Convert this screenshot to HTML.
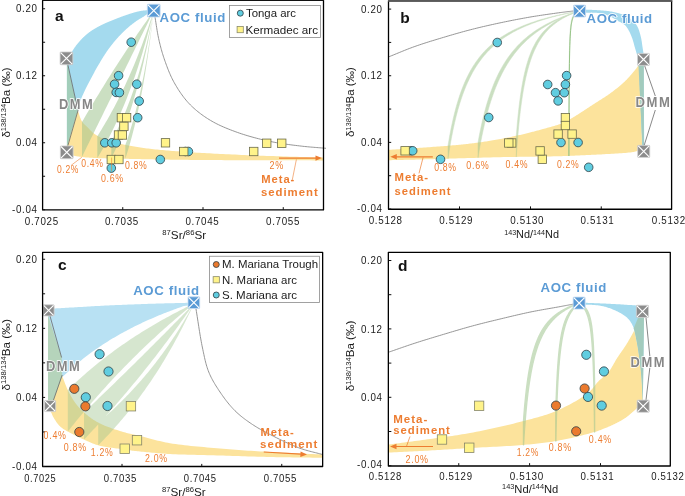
<!DOCTYPE html>
<html><head><meta charset="utf-8"><style>
html,body{margin:0;padding:0;background:#fff;}
svg{display:block;will-change:transform;}
text{font-family:"Liberation Sans", sans-serif;}
</style></head><body>
<svg width="685" height="496" viewBox="0 0 685 496">
<rect x="0" y="0" width="685" height="496" fill="#ffffff"/>
<path d="M70.3,54.45 L70.51,54.11 L70.71,53.77 L70.92,53.43 L71.12,53.09 L71.33,52.75 L71.53,52.41 L71.73,52.07 L71.94,51.73 L72.14,51.39 L72.35,51.05 L72.56,50.71 L72.76,50.38 L72.97,50.05 L73.18,49.72 L73.39,49.39 L73.6,49.07 L73.8,48.77 L74,48.47 L74.2,48.17 L74.41,47.87 L74.61,47.57 L74.81,47.28 L75.02,46.99 L75.22,46.7 L75.43,46.41 L75.64,46.13 L75.84,45.84 L76.05,45.56 L76.26,45.28 L76.47,45 L76.69,44.72 L76.9,44.45 L77.11,44.19 L77.31,43.93 L77.52,43.67 L77.73,43.42 L77.94,43.17 L78.16,42.91 L78.37,42.66 L78.58,42.42 L78.8,42.17 L79.01,41.93 L79.23,41.68 L79.44,41.44 L79.66,41.2 L79.87,40.96 L80.09,40.73 L80.3,40.49 L80.5,40.27 L80.71,40.04 L80.91,39.82 L81.12,39.6 L81.32,39.39 L81.53,39.17 L81.73,38.95 L81.94,38.74 L82.14,38.53 L82.35,38.32 L82.56,38.11 L82.76,37.9 L82.97,37.69 L83.18,37.49 L83.39,37.28 L83.6,37.08 L83.8,36.89 L84.01,36.69 L84.21,36.5 L84.41,36.32 L84.62,36.13 L84.82,35.94 L85.03,35.76 L85.24,35.57 L85.44,35.39 L85.65,35.21 L85.86,35.03 L86.07,34.85 L86.27,34.67 L86.48,34.5 L86.69,34.32 L86.9,34.15 L87.1,33.98 L87.31,33.82 L87.51,33.65 L87.72,33.49 L87.92,33.32 L88.13,33.16 L88.33,33 L88.54,32.84 L88.75,32.69 L88.95,32.53 L89.16,32.37 L89.37,32.22 L89.58,32.07 L89.78,31.91 L89.99,31.76 L90.2,31.61 L90.4,31.46 L90.61,31.32 L90.81,31.17 L91.02,31.03 L91.22,30.89 L91.43,30.75 L91.63,30.61 L91.84,30.47 L92.04,30.33 L92.25,30.19 L92.46,30.06 L92.66,29.92 L92.87,29.79 L93.08,29.65 L93.29,29.52 L93.5,29.39 L93.71,29.26 L93.92,29.13 L94.13,29.01 L94.34,28.88 L94.55,28.75 L94.77,28.63 L94.98,28.51 L95.19,28.38 L95.41,28.26 L95.62,28.14 L95.83,28.02 L96.05,27.9 L96.26,27.78 L96.48,27.67 L96.69,27.55 L96.9,27.43 L97.11,27.32 L97.31,27.2 L97.52,27.09 L97.73,26.98 L97.93,26.86 L98.14,26.75 L98.34,26.64 L98.55,26.53 L98.76,26.42 L98.96,26.31 L99.17,26.2 L99.37,26.1 L99.58,25.99 L99.79,25.88 L99.99,25.78 L100.2,25.67 L100.41,25.57 L100.61,25.46 L100.82,25.36 L101.02,25.26 L101.23,25.15 L101.43,25.05 L101.64,24.95 L101.85,24.85 L102.05,24.75 L102.26,24.65 L102.47,24.55 L102.67,24.45 L102.88,24.35 L103.09,24.26 L103.29,24.16 L103.5,24.06 L103.71,23.96 L103.91,23.87 L104.12,23.77 L104.32,23.68 L104.53,23.58 L104.73,23.49 L104.94,23.4 L105.14,23.3 L105.35,23.21 L105.56,23.12 L105.76,23.03 L105.97,22.93 L106.18,22.84 L106.38,22.75 L106.59,22.66 L106.8,22.57 L107.01,22.48 L107.22,22.39 L107.43,22.3 L107.65,22.21 L107.86,22.12 L108.07,22.03 L108.28,21.94 L108.5,21.86 L108.71,21.77 L108.93,21.68 L109.14,21.59 L109.35,21.51 L109.56,21.42 L109.78,21.33 L109.99,21.25 L110.2,21.16 L110.41,21.07 L110.61,20.99 L110.82,20.9 L111.03,20.82 L111.23,20.73 L111.44,20.65 L111.65,20.56 L111.85,20.48 L112.06,20.4 L112.26,20.31 L112.47,20.23 L112.68,20.14 L112.88,20.06 L113.09,19.98 L113.29,19.89 L113.5,19.81 L113.71,19.73 L113.91,19.65 L114.12,19.56 L114.32,19.48 L114.53,19.4 L114.74,19.32 L114.94,19.24 L115.15,19.16 L115.36,19.07 L115.56,18.99 L115.77,18.91 L115.97,18.83 L116.18,18.75 L116.39,18.67 L116.59,18.59 L116.8,18.51 L117.01,18.43 L117.21,18.35 L117.42,18.27 L117.62,18.19 L117.83,18.11 L118.04,18.03 L118.24,17.95 L118.45,17.87 L118.66,17.79 L118.86,17.71 L119.07,17.63 L119.27,17.55 L119.48,17.47 L119.69,17.4 L119.89,17.32 L120.1,17.24 L120.31,17.16 L120.51,17.08 L120.72,17.01 L120.92,16.93 L121.13,16.85 L121.33,16.78 L121.54,16.7 L121.75,16.62 L121.95,16.55 L122.16,16.47 L122.36,16.4 L122.57,16.32 L122.78,16.24 L122.98,16.17 L123.19,16.09 L123.4,16.02 L123.61,15.94 L123.82,15.87 L124.03,15.79 L124.25,15.72 L124.46,15.65 L124.67,15.57 L124.89,15.5 L125.1,15.42 L125.31,15.35 L125.53,15.28 L125.74,15.2 L125.95,15.13 L126.16,15.06 L126.38,14.98 L126.59,14.91 L126.8,14.84 L127.01,14.77 L127.21,14.7 L127.42,14.63 L127.63,14.56 L127.83,14.49 L128.04,14.42 L128.25,14.35 L128.45,14.28 L128.66,14.21 L128.86,14.14 L129.07,14.07 L129.28,14 L129.48,13.93 L129.69,13.86 L129.89,13.8 L130.1,13.73 L130.31,13.66 L130.51,13.6 L130.72,13.53 L130.92,13.47 L131.13,13.4 L131.34,13.34 L131.54,13.27 L131.75,13.21 L131.95,13.14 L132.16,13.08 L132.37,13.02 L132.57,12.95 L132.78,12.89 L132.99,12.83 L133.19,12.77 L133.4,12.71 L133.61,12.65 L133.81,12.59 L134.02,12.53 L134.22,12.47 L134.43,12.41 L134.64,12.36 L134.84,12.3 L135.05,12.24 L135.25,12.19 L135.46,12.13 L135.67,12.08 L135.87,12.02 L136.08,11.97 L136.29,11.91 L136.49,11.86 L136.7,11.81 L136.91,11.76 L137.11,11.71 L137.32,11.66 L137.52,11.61 L137.73,11.56 L137.93,11.51 L138.14,11.47 L138.34,11.42 L138.55,11.38 L138.76,11.33 L138.96,11.29 L139.17,11.24 L139.38,11.2 L139.58,11.16 L139.79,11.12 L140,11.08 L140.21,11.04 L140.42,11 L140.63,10.97 L140.85,10.93 L141.06,10.89 L141.27,10.86 L141.48,10.83 L141.7,10.79 L141.91,10.76 L142.12,10.73 L142.34,10.7 L142.55,10.67 L142.76,10.65 L142.98,10.62 L143.19,10.59 L143.4,10.57 L143.61,10.55 L143.81,10.53 L144.02,10.5 L144.23,10.48 L144.43,10.46 L144.64,10.45 L144.85,10.43 L145.05,10.41 L145.26,10.4 L145.46,10.38 L145.67,10.37 L145.88,10.36 L146.08,10.35 L146.29,10.34 L146.49,10.34 L146.7,10.33 L146.91,10.33 L147.11,10.33 L147.32,10.33 L147.52,10.33 L147.73,10.33 L147.94,10.34 L148.14,10.35 L148.35,10.35 L148.56,10.36 L148.76,10.37 L148.97,10.38 L149.17,10.39 L149.38,10.4 L149.59,10.41 L149.79,10.41 L150,10.42 L150,12 L149.65,12.26 L149.31,12.51 L148.97,12.77 L148.63,13.02 L148.29,13.28 L147.95,13.53 L147.62,13.79 L147.28,14.04 L146.93,14.3 L146.59,14.55 L146.24,14.81 L145.89,15.06 L145.53,15.32 L145.16,15.58 L144.78,15.84 L144.4,16.1 L143.94,16.4 L143.47,16.71 L142.99,17 L142.49,17.3 L141.99,17.6 L141.49,17.9 L140.98,18.2 L140.46,18.5 L139.94,18.8 L139.42,19.11 L138.89,19.43 L138.37,19.75 L137.85,20.07 L137.33,20.41 L136.81,20.75 L136.3,21.1 L135.74,21.49 L135.18,21.89 L134.62,22.3 L134.06,22.71 L133.5,23.13 L132.94,23.56 L132.37,23.99 L131.81,24.43 L131.25,24.88 L130.68,25.33 L130.12,25.79 L129.56,26.26 L128.99,26.73 L128.43,27.21 L127.86,27.7 L127.3,28.2 L126.67,28.77 L126.03,29.35 L125.39,29.95 L124.74,30.55 L124.09,31.17 L123.45,31.8 L122.8,32.44 L122.15,33.08 L121.51,33.73 L120.87,34.38 L120.24,35.03 L119.61,35.69 L119,36.35 L118.39,37 L117.79,37.65 L117.2,38.3 L116.65,38.92 L116.1,39.54 L115.55,40.18 L115.01,40.81 L114.48,41.45 L113.94,42.1 L113.42,42.74 L112.9,43.38 L112.39,44.02 L111.89,44.66 L111.39,45.29 L110.91,45.91 L110.44,46.53 L109.98,47.13 L109.53,47.72 L109.1,48.3 L108.77,48.75 L108.45,49.18 L108.15,49.59 L107.85,50 L107.57,50.4 L107.29,50.8 L107.02,51.19 L106.75,51.59 L106.48,51.98 L106.21,52.38 L105.94,52.79 L105.67,53.2 L105.39,53.63 L105.1,54.07 L104.81,54.52 L104.5,55 L104.08,55.65 L103.65,56.33 L103.21,57.04 L102.76,57.76 L102.3,58.5 L101.84,59.26 L101.37,60.03 L100.9,60.81 L100.43,61.6 L99.95,62.39 L99.48,63.18 L99.01,63.98 L98.55,64.77 L98.09,65.55 L97.64,66.33 L97.2,67.1 L96.77,67.85 L96.34,68.6 L95.92,69.36 L95.5,70.11 L95.08,70.87 L94.66,71.62 L94.25,72.38 L93.83,73.13 L93.42,73.89 L93.02,74.65 L92.61,75.41 L92.2,76.16 L91.8,76.92 L91.4,77.68 L91,78.44 L90.6,79.2 L90.2,79.96 L89.81,80.72 L89.41,81.48 L89.01,82.25 L88.61,83.01 L88.22,83.78 L87.82,84.55 L87.43,85.32 L87.05,86.08 L86.66,86.84 L86.29,87.6 L85.91,88.36 L85.55,89.1 L85.19,89.84 L84.84,90.58 L84.5,91.3 L84.2,91.93 L83.91,92.56 L83.62,93.17 L83.33,93.79 L83.05,94.39 L82.77,95 L82.5,95.6 L82.23,96.2 L81.96,96.8 L81.71,97.39 L81.45,97.99 L81.21,98.59 L80.97,99.18 L80.74,99.79 L80.52,100.39 L80.3,101 L80.1,101.59 L79.91,102.18 L79.74,102.77 L79.57,103.36 L79.41,103.96 L79.25,104.55 L79.1,105.15 L78.95,105.74 L78.81,106.34 L78.67,106.93 L78.53,107.53 L78.39,108.12 L78.25,108.72 L78.1,109.31 L77.95,109.91 L77.8,110.5 L66.9,147 L66.9,60 Z" fill="#a4daee"/>
<path d="M77.8,110.5 L78.06,111.2 L78.3,111.9 L78.55,112.62 L78.78,113.35 L79.01,114.08 L79.24,114.81 L79.48,115.53 L79.71,116.26 L79.96,116.97 L80.21,117.68 L80.47,118.37 L80.74,119.04 L81.03,119.69 L81.33,120.32 L81.66,120.93 L82,121.5 L82.31,121.96 L82.64,122.41 L82.98,122.84 L83.34,123.25 L83.71,123.65 L84.08,124.04 L84.47,124.41 L84.86,124.78 L85.25,125.14 L85.64,125.5 L86.03,125.85 L86.42,126.2 L86.8,126.54 L87.18,126.89 L87.55,127.24 L87.9,127.6 L88.21,127.92 L88.51,128.24 L88.8,128.55 L89.09,128.86 L89.38,129.18 L89.66,129.49 L89.95,129.79 L90.23,130.1 L90.52,130.4 L90.8,130.7 L91.09,130.99 L91.38,131.28 L91.68,131.57 L91.98,131.85 L92.28,132.13 L92.6,132.4 L92.92,132.67 L93.23,132.92 L93.55,133.18 L93.86,133.43 L94.18,133.67 L94.5,133.91 L94.83,134.15 L95.15,134.38 L95.49,134.61 L95.83,134.84 L96.18,135.07 L96.54,135.29 L96.91,135.52 L97.3,135.75 L97.69,135.97 L98.1,136.2 L98.66,136.5 L99.25,136.81 L99.85,137.11 L100.47,137.41 L101.11,137.71 L101.77,138.01 L102.44,138.3 L103.13,138.6 L103.83,138.89 L104.54,139.17 L105.26,139.45 L105.99,139.73 L106.73,140.01 L107.48,140.28 L108.24,140.54 L109,140.8 L109.93,141.1 L110.88,141.4 L111.84,141.69 L112.82,141.98 L113.82,142.25 L114.83,142.52 L115.86,142.79 L116.9,143.05 L117.96,143.31 L119.02,143.56 L120.11,143.81 L121.2,144.05 L122.31,144.29 L123.43,144.53 L124.56,144.77 L125.7,145 L127.08,145.28 L128.49,145.55 L129.93,145.81 L131.38,146.07 L132.86,146.33 L134.35,146.58 L135.86,146.82 L137.39,147.06 L138.93,147.3 L140.48,147.53 L142.05,147.75 L143.63,147.97 L145.21,148.19 L146.8,148.4 L148.4,148.6 L150,148.8 L151.78,149.01 L153.56,149.22 L155.36,149.41 L157.17,149.6 L158.99,149.78 L160.82,149.95 L162.66,150.12 L164.52,150.28 L166.4,150.44 L168.29,150.6 L170.19,150.75 L172.12,150.9 L174.06,151.05 L176.02,151.2 L178,151.35 L180,151.5 L182.33,151.67 L184.69,151.84 L187.08,152 L189.49,152.17 L191.92,152.32 L194.38,152.48 L196.86,152.63 L199.36,152.78 L201.88,152.93 L204.42,153.07 L206.98,153.21 L209.55,153.35 L212.14,153.49 L214.75,153.63 L217.37,153.76 L220,153.9 L222.97,154.05 L225.97,154.2 L229.01,154.34 L232.07,154.48 L235.16,154.62 L238.27,154.76 L241.4,154.89 L244.55,155.02 L247.71,155.15 L250.89,155.28 L254.07,155.4 L257.26,155.53 L260.45,155.65 L263.64,155.77 L266.82,155.88 L270,156 L273.28,156.12 L276.58,156.23 L279.88,156.34 L283.19,156.44 L286.52,156.54 L289.85,156.64 L293.18,156.74 L296.52,156.84 L299.86,156.93 L303.21,157.03 L306.55,157.12 L309.9,157.21 L313.24,157.31 L316.58,157.4 L319.92,157.5 L323.25,157.6 L323.25,160.4 L318.65,160.39 L314,160.38 L309.32,160.36 L304.61,160.35 L299.89,160.34 L295.17,160.33 L290.45,160.31 L285.75,160.3 L281.08,160.29 L276.45,160.28 L271.86,160.27 L267.33,160.25 L262.87,160.24 L258.49,160.23 L254.2,160.21 L250,160.2 L246.61,160.19 L243.29,160.18 L240.04,160.17 L236.83,160.16 L233.67,160.16 L230.55,160.15 L227.47,160.14 L224.41,160.13 L221.36,160.12 L218.33,160.11 L215.31,160.1 L212.28,160.09 L209.24,160.07 L206.18,160.05 L203.11,160.03 L200,160 L196.84,159.97 L193.63,159.94 L190.37,159.9 L187.08,159.86 L183.78,159.82 L180.47,159.78 L177.16,159.73 L173.88,159.68 L170.64,159.63 L167.44,159.59 L164.31,159.54 L161.25,159.49 L158.27,159.44 L155.4,159.39 L152.63,159.35 L150,159.3 L148.23,159.27 L146.5,159.24 L144.82,159.21 L143.17,159.17 L141.56,159.14 L139.98,159.11 L138.43,159.08 L136.92,159.04 L135.43,159.01 L133.97,158.98 L132.54,158.95 L131.13,158.92 L129.75,158.89 L128.38,158.86 L127.03,158.83 L125.7,158.8 L124.69,158.78 L123.71,158.76 L122.74,158.74 L121.8,158.72 L120.88,158.7 L119.97,158.69 L119.08,158.67 L118.19,158.65 L117.31,158.64 L116.44,158.62 L115.58,158.6 L114.71,158.58 L113.84,158.56 L112.97,158.54 L112.09,158.52 L111.2,158.5 L110.33,158.48 L109.47,158.46 L108.62,158.44 L107.77,158.42 L106.92,158.4 L106.07,158.38 L105.22,158.37 L104.38,158.35 L103.53,158.32 L102.68,158.3 L101.83,158.27 L100.97,158.25 L100.11,158.21 L99.25,158.18 L98.38,158.14 L97.5,158.1 L96.55,158.05 L95.58,158 L94.59,157.95 L93.6,157.9 L92.59,157.85 L91.58,157.79 L90.56,157.73 L89.55,157.67 L88.55,157.6 L87.55,157.53 L86.57,157.46 L85.61,157.38 L84.67,157.29 L83.75,157.2 L82.86,157.1 L82,157 L81.35,156.92 L80.72,156.84 L80.09,156.76 L79.47,156.68 L78.86,156.6 L78.26,156.52 L77.67,156.43 L77.09,156.34 L76.52,156.25 L75.96,156.14 L75.41,156.03 L74.87,155.91 L74.34,155.78 L73.82,155.63 L73.3,155.47 L72.8,155.3 L72.38,155.14 L71.98,154.97 L71.58,154.79 L71.2,154.59 L70.83,154.39 L70.46,154.19 L70.1,153.97 L69.74,153.76 L69.39,153.54 L69.03,153.31 L68.68,153.09 L68.33,152.86 L67.98,152.64 L67.63,152.42 L67.27,152.21 L66.9,152 L66.9,147 Z" fill="#fce39c"/>
<path d="M66.9,62 L78,110.5 L66.9,148 Z M153.7,10.8 L151.91,13.31 L150.11,15.83 L148.32,18.36 L146.53,20.91 L144.74,23.47 L142.94,26.04 L141.15,28.63 L139.36,31.22 L137.57,33.84 L135.77,36.46 L133.98,39.1 L132.19,41.75 L130.4,44.42 L128.6,47.1 L126.81,49.79 L125.02,52.5 L123.23,55.22 L121.44,57.96 L119.64,60.71 L117.85,63.47 L116.06,66.25 L114.26,69.05 L112.47,71.86 L110.68,74.68 L108.89,77.52 L107.09,80.37 L105.3,83.24 L103.51,86.13 L101.72,89.03 L99.92,91.95 L98.13,94.88 L96.34,97.83 L94.55,100.79 L92.75,103.77 L90.96,106.77 L89.17,109.78 L87.38,112.81 L85.59,115.86 L83.79,118.92 L82,122 L82,156.8 L83.79,153.15 L85.59,149.5 L87.38,145.85 L89.17,142.2 L90.96,138.55 L92.75,134.9 L94.55,131.25 L96.34,127.6 L98.13,123.95 L99.92,120.3 L101.72,116.65 L103.51,113 L105.3,109.35 L107.09,105.7 L108.89,102.05 L110.68,98.4 L112.47,94.75 L114.26,91.1 L116.06,87.45 L117.85,83.8 L119.64,80.15 L121.44,76.5 L123.23,72.85 L125.02,69.2 L126.81,65.55 L128.6,61.9 L130.4,58.25 L132.19,54.6 L133.98,50.95 L135.77,47.3 L137.57,43.65 L139.36,40 L141.15,36.35 L142.94,32.7 L144.74,29.05 L146.53,25.4 L148.32,21.75 L150.11,18.1 L151.91,14.45 L153.7,10.8 Z M153.7,10.8 L152.29,15.21 L150.88,19.52 L149.47,23.75 L148.06,27.89 L146.65,31.95 L145.24,35.93 L143.83,39.83 L142.42,43.65 L141.01,47.41 L139.6,51.09 L138.19,54.7 L136.78,58.24 L135.37,61.72 L133.96,65.14 L132.55,68.49 L131.14,71.78 L129.73,75.02 L128.32,78.19 L126.91,81.31 L125.5,84.38 L124.09,87.4 L122.68,90.36 L121.27,93.27 L119.86,96.14 L118.45,98.95 L117.04,101.72 L115.63,104.45 L114.22,107.13 L112.81,109.76 L111.4,112.36 L109.99,114.91 L108.58,117.43 L107.17,119.9 L105.76,122.34 L104.35,124.74 L102.94,127.1 L101.53,129.43 L100.12,131.72 L98.71,133.98 L97.3,136.2 L97.3,158.1 L98.71,155.78 L100.12,153.41 L101.53,151 L102.94,148.54 L104.35,146.03 L105.76,143.47 L107.17,140.86 L108.58,138.19 L109.99,135.48 L111.4,132.7 L112.81,129.87 L114.22,126.98 L115.63,124.03 L117.04,121.01 L118.45,117.93 L119.86,114.78 L121.27,111.56 L122.68,108.26 L124.09,104.89 L125.5,101.45 L126.91,97.92 L128.32,94.31 L129.73,90.61 L131.14,86.83 L132.55,82.95 L133.96,78.97 L135.37,74.9 L136.78,70.72 L138.19,66.43 L139.6,62.03 L141.01,57.52 L142.42,52.89 L143.83,48.12 L145.24,43.23 L146.65,38.2 L148.06,33.03 L149.47,27.71 L150.88,22.24 L152.29,16.6 L153.7,10.8 Z M153.7,10.8 L152.64,16.25 L151.58,21.52 L150.52,26.61 L149.46,31.53 L148.4,36.3 L147.34,40.92 L146.28,45.39 L145.22,49.72 L144.16,53.92 L143.1,58 L142.04,61.96 L140.98,65.8 L139.92,69.54 L138.86,73.17 L137.8,76.7 L136.74,80.13 L135.68,83.47 L134.62,86.72 L133.56,89.88 L132.5,92.97 L131.44,95.97 L130.38,98.9 L129.32,101.75 L128.26,104.54 L127.2,107.26 L126.14,109.91 L125.08,112.5 L124.02,115.02 L122.96,117.49 L121.9,119.91 L120.84,122.26 L119.78,124.57 L118.72,126.82 L117.66,129.03 L116.6,131.18 L115.54,133.29 L114.48,135.36 L113.42,137.38 L112.36,139.36 L111.3,141.3 L111.3,158.5 L112.36,156.31 L113.42,154.06 L114.48,151.78 L115.54,149.44 L116.6,147.05 L117.66,144.61 L118.72,142.11 L119.78,139.56 L120.84,136.96 L121.9,134.29 L122.96,131.56 L124.02,128.76 L125.08,125.9 L126.14,122.97 L127.2,119.97 L128.26,116.89 L129.32,113.74 L130.38,110.51 L131.44,107.2 L132.5,103.8 L133.56,100.31 L134.62,96.72 L135.68,93.05 L136.74,89.27 L137.8,85.38 L138.86,81.39 L139.92,77.28 L140.98,73.05 L142.04,68.7 L143.1,64.22 L144.16,59.61 L145.22,54.85 L146.28,49.95 L147.34,44.88 L148.4,39.66 L149.46,34.27 L150.52,28.69 L151.58,22.93 L152.64,16.97 L153.7,10.8 Z M153.7,10.8 L152.99,16.41 L152.28,21.82 L151.57,27.06 L150.86,32.12 L150.15,37.02 L149.44,41.77 L148.73,46.37 L148.02,50.82 L147.31,55.15 L146.6,59.34 L145.89,63.41 L145.18,67.36 L144.47,71.2 L143.76,74.94 L143.05,78.56 L142.34,82.09 L141.63,85.53 L140.92,88.87 L140.21,92.13 L139.5,95.3 L138.79,98.39 L138.08,101.4 L137.37,104.33 L136.66,107.2 L135.95,109.99 L135.24,112.72 L134.53,115.38 L133.82,117.98 L133.11,120.52 L132.4,123 L131.69,125.42 L130.98,127.79 L130.27,130.11 L129.56,132.38 L128.85,134.6 L128.14,136.77 L127.43,138.89 L126.72,140.97 L126.01,143.01 L125.3,145 L125.3,158.8 L126.01,156.6 L126.72,154.36 L127.43,152.06 L128.14,149.72 L128.85,147.33 L129.56,144.88 L130.27,142.38 L130.98,139.83 L131.69,137.21 L132.4,134.54 L133.11,131.8 L133.82,129 L134.53,126.13 L135.24,123.2 L135.95,120.19 L136.66,117.11 L137.37,113.95 L138.08,110.71 L138.79,107.39 L139.5,103.99 L140.21,100.49 L140.92,96.9 L141.63,93.21 L142.34,89.42 L143.05,85.53 L143.76,81.53 L144.47,77.42 L145.18,73.18 L145.89,68.82 L146.6,64.33 L147.31,59.71 L148.02,54.94 L148.73,50.02 L149.44,44.95 L150.15,39.72 L150.86,34.31 L151.57,28.73 L152.28,22.95 L152.99,16.98 L153.7,10.8 Z" fill="#a0c590" fill-opacity="0.55"/>
<path d="M154.5,14 L154.78,15.64 L155.05,17.3 L155.31,18.96 L155.57,20.62 L155.83,22.29 L156.09,23.96 L156.35,25.63 L156.61,27.29 L156.87,28.95 L157.14,30.6 L157.42,32.24 L157.71,33.87 L158.01,35.48 L158.33,37.07 L158.66,38.65 L159,40.2 L159.32,41.6 L159.65,42.97 L159.99,44.34 L160.33,45.69 L160.67,47.03 L161.03,48.36 L161.39,49.68 L161.76,50.99 L162.14,52.29 L162.53,53.6 L162.93,54.89 L163.34,56.19 L163.76,57.49 L164.19,58.79 L164.64,60.09 L165.1,61.4 L165.58,62.74 L166.07,64.08 L166.56,65.42 L167.06,66.76 L167.56,68.1 L168.08,69.44 L168.61,70.77 L169.16,72.11 L169.72,73.43 L170.3,74.76 L170.89,76.08 L171.51,77.4 L172.15,78.71 L172.81,80.01 L173.49,81.31 L174.2,82.6 L174.98,83.97 L175.78,85.35 L176.6,86.73 L177.45,88.11 L178.31,89.49 L179.2,90.86 L180.11,92.23 L181.04,93.59 L182,94.93 L182.97,96.26 L183.97,97.58 L184.99,98.87 L186.04,100.14 L187.1,101.39 L188.19,102.61 L189.3,103.8 L190.45,104.98 L191.64,106.15 L192.85,107.29 L194.08,108.42 L195.34,109.52 L196.62,110.61 L197.92,111.68 L199.25,112.72 L200.59,113.75 L201.96,114.76 L203.34,115.75 L204.74,116.72 L206.16,117.67 L207.59,118.6 L209.04,119.51 L210.5,120.4 L212.06,121.31 L213.63,122.2 L215.24,123.06 L216.86,123.89 L218.51,124.7 L220.17,125.49 L221.86,126.26 L223.56,127.01 L225.28,127.74 L227.02,128.46 L228.77,129.16 L230.53,129.85 L232.31,130.53 L234.09,131.19 L235.89,131.85 L237.7,132.5 L239.67,133.19 L241.67,133.86 L243.7,134.52 L245.76,135.17 L247.84,135.79 L249.94,136.41 L252.05,137 L254.17,137.58 L256.29,138.15 L258.42,138.69 L260.54,139.22 L262.66,139.73 L264.77,140.23 L266.87,140.7 L268.94,141.16 L271,141.6 L272.92,141.99 L274.85,142.37 L276.77,142.72 L278.69,143.05 L280.61,143.37 L282.53,143.67 L284.44,143.96 L286.35,144.23 L288.24,144.49 L290.13,144.74 L292.01,144.99 L293.88,145.22 L295.73,145.45 L297.57,145.67 L299.39,145.89 L301.2,146.1 L302.81,146.29 L304.41,146.46 L306,146.62 L307.56,146.77 L309.12,146.92 L310.67,147.05 L312.21,147.18 L313.75,147.31 L315.28,147.43 L316.8,147.55 L318.33,147.67 L319.85,147.79 L321.38,147.91 L322.92,148.04 L324.45,148.17 L326,148.3" fill="none" stroke="#8a8a8a" stroke-width="0.9"/>
<path d="M67.5,63 L78,110.5 L67.5,147" fill="none" stroke="#6a6a6a" stroke-width="0.8"/>
<path d="M279,158.1 L318,158.1" stroke="#ed7d31" stroke-width="1.2"/>
<path d="M322,158.1 L315.5,155.4 L315.5,160.8 Z" fill="#ed7d31"/>
<circle cx="131.2" cy="42.2" r="4.3" fill="#60cde0" stroke="#2f3f45" stroke-width="0.8"/>
<circle cx="118.6" cy="75.7" r="4.3" fill="#60cde0" stroke="#2f3f45" stroke-width="0.8"/>
<circle cx="114.6" cy="84.2" r="4.3" fill="#60cde0" stroke="#2f3f45" stroke-width="0.8"/>
<circle cx="136.8" cy="84.2" r="4.3" fill="#60cde0" stroke="#2f3f45" stroke-width="0.8"/>
<circle cx="116.2" cy="92.4" r="4.3" fill="#60cde0" stroke="#2f3f45" stroke-width="0.8"/>
<circle cx="119.4" cy="92.6" r="4.3" fill="#60cde0" stroke="#2f3f45" stroke-width="0.8"/>
<circle cx="139.2" cy="101.1" r="4.3" fill="#60cde0" stroke="#2f3f45" stroke-width="0.8"/>
<circle cx="137.7" cy="117.7" r="4.3" fill="#60cde0" stroke="#2f3f45" stroke-width="0.8"/>
<circle cx="104.8" cy="142.8" r="4.3" fill="#60cde0" stroke="#2f3f45" stroke-width="0.8"/>
<circle cx="111.8" cy="142.8" r="4.3" fill="#60cde0" stroke="#2f3f45" stroke-width="0.8"/>
<circle cx="116.2" cy="142.8" r="4.3" fill="#60cde0" stroke="#2f3f45" stroke-width="0.8"/>
<circle cx="160.3" cy="159.5" r="4.3" fill="#60cde0" stroke="#2f3f45" stroke-width="0.8"/>
<circle cx="111.3" cy="168.1" r="4.3" fill="#60cde0" stroke="#2f3f45" stroke-width="0.8"/>
<circle cx="185.5" cy="151.5" r="4.3" fill="#60cde0" stroke="#2f3f45" stroke-width="0.8"/>
<circle cx="188.4" cy="151.5" r="4.3" fill="#60cde0" stroke="#2f3f45" stroke-width="0.8"/>
<rect x="117.2" y="113.5" width="8.4" height="8.4" fill="#fff38a" stroke="#6b6b4a" stroke-width="0.8"/>
<rect x="122.4" y="113.5" width="8.4" height="8.4" fill="#fff38a" stroke="#6b6b4a" stroke-width="0.8"/>
<rect x="119.7" y="122.2" width="8.4" height="8.4" fill="#fff38a" stroke="#6b6b4a" stroke-width="0.8"/>
<rect x="114.3" y="130.8" width="8.4" height="8.4" fill="#fff38a" stroke="#6b6b4a" stroke-width="0.8"/>
<rect x="118.2" y="130.8" width="8.4" height="8.4" fill="#fff38a" stroke="#6b6b4a" stroke-width="0.8"/>
<rect x="161.3" y="138.6" width="8.4" height="8.4" fill="#fff38a" stroke="#6b6b4a" stroke-width="0.8"/>
<rect x="107.1" y="155.3" width="8.4" height="8.4" fill="#fff38a" stroke="#6b6b4a" stroke-width="0.8"/>
<rect x="114.7" y="155.3" width="8.4" height="8.4" fill="#fff38a" stroke="#6b6b4a" stroke-width="0.8"/>
<rect x="179.55" y="147.3" width="8.4" height="8.4" fill="#fff38a" stroke="#6b6b4a" stroke-width="0.8"/>
<rect x="249.55" y="147.3" width="8.4" height="8.4" fill="#fff38a" stroke="#6b6b4a" stroke-width="0.8"/>
<rect x="262.55" y="139.05" width="8.4" height="8.4" fill="#fff38a" stroke="#6b6b4a" stroke-width="0.8"/>
<rect x="277.55" y="139.05" width="8.4" height="8.4" fill="#fff38a" stroke="#6b6b4a" stroke-width="0.8"/>
<path d="M71.2,165.3 L81.8,157.3 M111.6,157.6 L111.6,171.4 M296.4,159.4 L292,181.3" stroke="#ed7d31" stroke-width="0.7" stroke-opacity="0.85" fill="none"/>
<rect x="60.05" y="51.95" width="12.8" height="12.8" fill="#8c8c8c" stroke="#d4d4d4" stroke-width="0.8" rx="0.8"/>
<path d="M60.65,52.55 L72.25,64.15 M60.65,64.15 L72.25,52.55" stroke="#ffffff" stroke-width="1.15"/>
<rect x="60.35" y="145.9" width="12.8" height="12.8" fill="#8c8c8c" stroke="#d4d4d4" stroke-width="0.8" rx="0.8"/>
<path d="M60.95,146.5 L72.55,158.1 M60.95,158.1 L72.55,146.5" stroke="#ffffff" stroke-width="1.15"/>
<rect x="147.35" y="4.2" width="12.8" height="12.8" fill="#5b9bd5" stroke="#c8ddf2" stroke-width="0.8" rx="0.8"/>
<path d="M147.95,4.8 L159.55,16.4 M147.95,16.4 L159.55,4.8" stroke="#ffffff" stroke-width="1.15"/>
<rect x="42.6" y="0.4" width="280.9" height="209.5" fill="none" stroke="#000" stroke-width="1.3" stroke-linejoin="round"/>
<rect x="42" y="0" width="282" height="1" fill="#111"/>
<path d="M42.5,8.75 L45.1,8.75 M42.5,42.25 L45.1,42.25 M42.5,75.75 L45.1,75.75 M42.5,109.25 L45.1,109.25 M42.5,142.75 L45.1,142.75 M42.5,176.25 L45.1,176.25 M42.5,209.75 L45.1,209.75 " stroke="#111" stroke-width="1"/>
<path d="M122.75,209.75 L122.75,207.15 M203,209.75 L203,207.15 M283.25,209.75 L283.25,207.15 " stroke="#111" stroke-width="1"/>
<text x="37.7" y="12.3" font-size="10.3" text-anchor="end" fill="#1a1a1a" font-weight="normal" textLength="21.7" lengthAdjust="spacingAndGlyphs" letter-spacing="0.7">0.20</text>
<text x="37.7" y="79.3" font-size="10.3" text-anchor="end" fill="#1a1a1a" font-weight="normal" textLength="21.7" lengthAdjust="spacingAndGlyphs" letter-spacing="0.7">0.12</text>
<text x="37.7" y="146.3" font-size="10.3" text-anchor="end" fill="#1a1a1a" font-weight="normal" textLength="21.7" lengthAdjust="spacingAndGlyphs" letter-spacing="0.7">0.04</text>
<text x="37.7" y="212.5" font-size="10.3" text-anchor="end" fill="#1a1a1a" font-weight="normal" textLength="25.7" lengthAdjust="spacingAndGlyphs" letter-spacing="0.7">-0.04</text>
<text x="41.85" y="225" font-size="10.3" text-anchor="middle" fill="#1a1a1a" font-weight="normal" textLength="34" lengthAdjust="spacingAndGlyphs" letter-spacing="0.7">0.7025</text>
<text x="121.95" y="225" font-size="10.3" text-anchor="middle" fill="#1a1a1a" font-weight="normal" textLength="34" lengthAdjust="spacingAndGlyphs" letter-spacing="0.7">0.7035</text>
<text x="202.45" y="225" font-size="10.3" text-anchor="middle" fill="#1a1a1a" font-weight="normal" textLength="34" lengthAdjust="spacingAndGlyphs" letter-spacing="0.7">0.7045</text>
<text x="283.05" y="225" font-size="10.3" text-anchor="middle" fill="#1a1a1a" font-weight="normal" textLength="34" lengthAdjust="spacingAndGlyphs" letter-spacing="0.7">0.7055</text>
<text transform="translate(9.6,137.6) rotate(-90)" font-size="10.7" fill="#1a1a1a" textLength="70.2" lengthAdjust="spacingAndGlyphs">&#948;<tspan font-size="7" dy="-3.6">138/134</tspan><tspan dy="3.6">Ba (&#8240;)</tspan></text>
<text x="162.3" y="239" font-size="10.7" fill="#1a1a1a" textLength="43.9" lengthAdjust="spacingAndGlyphs"><tspan font-size="7" dy="-3.8">87</tspan><tspan dy="3.8">Sr/</tspan><tspan font-size="7" dy="-3.8">86</tspan><tspan dy="3.8">Sr</tspan></text>
<text x="55" y="21" font-size="15.5" text-anchor="start" fill="#111" font-weight="bold">a</text>
<text x="159.6" y="22.2" font-size="13.6" text-anchor="start" fill="#5b9bd5" font-weight="bold" textLength="66.3" lengthAdjust="spacingAndGlyphs" letter-spacing="0.6">AOC fluid</text>
<text x="58.9" y="108.8" font-size="13.8" text-anchor="start" fill="#878787" font-weight="bold" textLength="35.2" lengthAdjust="spacingAndGlyphs" letter-spacing="1.6" stroke="#fff" stroke-width="1.6" paint-order="stroke">DMM</text>
<text x="56.9" y="172.5" font-size="10" text-anchor="start" fill="#ed7d31" font-weight="normal" textLength="22.2" lengthAdjust="spacingAndGlyphs" letter-spacing="0.8">0.2%</text>
<text x="81.2" y="167.4" font-size="10" text-anchor="start" fill="#ed7d31" font-weight="normal" textLength="22.4" lengthAdjust="spacingAndGlyphs" letter-spacing="0.8">0.4%</text>
<text x="100.9" y="181.5" font-size="10" text-anchor="start" fill="#ed7d31" font-weight="normal" textLength="23" lengthAdjust="spacingAndGlyphs" letter-spacing="0.8">0.6%</text>
<text x="124.9" y="168.7" font-size="10" text-anchor="start" fill="#ed7d31" font-weight="normal" textLength="22.6" lengthAdjust="spacingAndGlyphs" letter-spacing="0.8">0.8%</text>
<text x="269.6" y="168.9" font-size="10" text-anchor="start" fill="#ed7d31" font-weight="normal" textLength="14.5" lengthAdjust="spacingAndGlyphs" letter-spacing="0.8">2%</text>
<text x="261.2" y="182.8" font-size="11.5" text-anchor="start" fill="#ed7d31" font-weight="bold" textLength="34.1" lengthAdjust="spacingAndGlyphs" letter-spacing="1">Meta-</text>
<text x="260.9" y="196.4" font-size="11.5" text-anchor="start" fill="#ed7d31" font-weight="bold" textLength="57.8" lengthAdjust="spacingAndGlyphs" letter-spacing="1">sediment</text>
<rect x="229.5" y="5.5" width="91" height="32" fill="#fff" stroke="#8a8a8a" stroke-width="0.8"/>
<circle cx="240.3" cy="13.2" r="3" fill="#60cde0" stroke="#2f3f45" stroke-width="0.8"/>
<rect x="237.1" y="26.5" width="6.2" height="6.2" fill="#fff38a" stroke="#8a8a6a" stroke-width="0.8"/>
<text x="246" y="17.2" font-size="10.7" text-anchor="start" fill="#1a1a1a" font-weight="normal" textLength="50" lengthAdjust="spacingAndGlyphs">Tonga arc</text>
<text x="245.5" y="33.5" font-size="10.7" text-anchor="start" fill="#1a1a1a" font-weight="normal" textLength="72.5" lengthAdjust="spacingAndGlyphs">Kermadec arc</text>
<path d="M585.5,9.6 L586.28,9.64 L587.07,9.67 L587.85,9.7 L588.64,9.74 L589.42,9.77 L590.21,9.8 L590.99,9.83 L591.78,9.87 L592.56,9.9 L593.34,9.94 L594.13,9.97 L594.91,10.01 L595.68,10.05 L596.46,10.1 L597.23,10.15 L598,10.2 L598.75,10.25 L599.49,10.31 L600.24,10.36 L600.99,10.41 L601.75,10.47 L602.49,10.52 L603.24,10.58 L603.99,10.65 L604.72,10.71 L605.46,10.78 L606.19,10.85 L606.91,10.93 L607.62,11.02 L608.32,11.1 L609.02,11.2 L609.7,11.3 L610.29,11.39 L610.88,11.49 L611.46,11.59 L612.04,11.7 L612.61,11.8 L613.18,11.91 L613.74,12.03 L614.3,12.15 L614.85,12.27 L615.39,12.39 L615.93,12.52 L616.46,12.65 L616.98,12.78 L617.5,12.92 L618,13.06 L618.5,13.2 L618.91,13.32 L619.31,13.44 L619.71,13.56 L620.1,13.69 L620.48,13.81 L620.85,13.94 L621.23,14.07 L621.59,14.2 L621.96,14.34 L622.32,14.47 L622.68,14.62 L623.05,14.76 L623.41,14.91 L623.77,15.07 L624.13,15.23 L624.5,15.4 L624.88,15.58 L625.26,15.75 L625.65,15.93 L626.03,16.12 L626.41,16.3 L626.79,16.49 L627.17,16.68 L627.54,16.88 L627.92,17.09 L628.29,17.3 L628.67,17.53 L629.04,17.76 L629.41,18 L629.77,18.26 L630.14,18.52 L630.5,18.8 L630.93,19.14 L631.36,19.5 L631.8,19.87 L632.24,20.26 L632.67,20.65 L633.11,21.07 L633.54,21.49 L633.97,21.92 L634.39,22.37 L634.8,22.83 L635.2,23.3 L635.59,23.78 L635.97,24.27 L636.33,24.77 L636.67,25.28 L637,25.8 L637.34,26.39 L637.66,27 L637.96,27.63 L638.24,28.28 L638.51,28.95 L638.77,29.63 L639.01,30.32 L639.24,31.02 L639.46,31.73 L639.67,32.45 L639.88,33.16 L640.07,33.88 L640.26,34.59 L640.44,35.3 L640.62,36.01 L640.8,36.7 L640.97,37.38 L641.12,38.07 L641.26,38.77 L641.4,39.48 L641.52,40.19 L641.64,40.9 L641.75,41.61 L641.85,42.32 L641.95,43.02 L642.05,43.71 L642.14,44.4 L642.23,45.07 L642.32,45.73 L642.41,46.37 L642.51,47 L642.6,47.6 L642.67,48.05 L642.74,48.48 L642.81,48.9 L642.87,49.32 L642.94,49.72 L643,50.12 L643.06,50.52 L643.12,50.91 L643.18,51.29 L643.24,51.67 L643.3,52.06 L643.36,52.44 L643.42,52.82 L643.48,53.21 L643.54,53.6 L643.6,54 L644.2,147 L641.8,147 L637.4,56 L637.34,55.81 L637.29,55.63 L637.23,55.45 L637.18,55.27 L637.13,55.09 L637.07,54.91 L637.02,54.73 L636.97,54.55 L636.91,54.37 L636.86,54.19 L636.8,54 L636.74,53.81 L636.68,53.62 L636.62,53.42 L636.56,53.21 L636.5,53 L636.41,52.71 L636.33,52.41 L636.24,52.11 L636.15,51.8 L636.05,51.49 L635.96,51.17 L635.86,50.85 L635.77,50.52 L635.67,50.18 L635.56,49.83 L635.46,49.48 L635.35,49.12 L635.24,48.75 L635.13,48.38 L635.02,47.99 L634.9,47.6 L634.73,47.02 L634.56,46.42 L634.39,45.78 L634.22,45.13 L634.04,44.46 L633.86,43.77 L633.67,43.07 L633.47,42.36 L633.27,41.64 L633.07,40.92 L632.85,40.2 L632.62,39.48 L632.38,38.77 L632.13,38.07 L631.87,37.38 L631.6,36.7 L631.3,36 L631,35.28 L630.69,34.55 L630.37,33.81 L630.04,33.08 L629.7,32.34 L629.35,31.61 L628.99,30.88 L628.61,30.17 L628.22,29.47 L627.83,28.79 L627.41,28.14 L626.98,27.51 L626.54,26.9 L626.08,26.33 L625.6,25.8 L625.16,25.36 L624.7,24.95 L624.22,24.56 L623.72,24.19 L623.22,23.85 L622.7,23.52 L622.17,23.21 L621.63,22.91 L621.09,22.62 L620.54,22.33 L620,22.05 L619.45,21.77 L618.9,21.49 L618.36,21.2 L617.83,20.91 L617.3,20.6 L616.79,20.29 L616.27,19.98 L615.76,19.66 L615.25,19.35 L614.74,19.03 L614.23,18.72 L613.72,18.41 L613.2,18.1 L612.69,17.8 L612.17,17.5 L611.65,17.21 L611.13,16.93 L610.61,16.65 L610.08,16.39 L609.54,16.14 L609,15.9 L608.46,15.67 L607.93,15.46 L607.39,15.24 L606.86,15.04 L606.32,14.85 L605.79,14.66 L605.24,14.48 L604.7,14.3 L604.14,14.14 L603.58,13.98 L603.01,13.83 L602.44,13.69 L601.85,13.56 L601.24,13.43 L600.63,13.31 L600,13.2 L599.19,13.08 L598.36,12.98 L597.51,12.9 L596.63,12.84 L595.74,12.79 L594.83,12.75 L593.91,12.73 L592.98,12.71 L592.04,12.7 L591.1,12.69 L590.15,12.68 L589.21,12.68 L588.27,12.67 L587.34,12.65 L586.41,12.63 L585.5,12.6 Z" fill="#a4daee"/>
<path d="M389,149.8 L390.94,149.68 L392.88,149.55 L394.82,149.43 L396.76,149.31 L398.7,149.18 L400.65,149.06 L402.59,148.94 L404.53,148.81 L406.47,148.69 L408.41,148.57 L410.35,148.44 L412.29,148.32 L414.22,148.19 L416.15,148.06 L418.08,147.93 L420,147.8 L421.9,147.67 L423.82,147.54 L425.74,147.41 L427.68,147.27 L429.62,147.14 L431.55,147 L433.49,146.87 L435.41,146.73 L437.32,146.59 L439.22,146.45 L441.09,146.32 L442.94,146.17 L444.76,146.03 L446.54,145.89 L448.29,145.75 L450,145.6 L451.36,145.48 L452.7,145.36 L454,145.25 L455.29,145.13 L456.55,145.01 L457.8,144.9 L459.03,144.78 L460.26,144.66 L461.47,144.54 L462.68,144.42 L463.89,144.29 L465.1,144.16 L466.31,144.03 L467.53,143.89 L468.76,143.75 L470,143.6 L471.25,143.45 L472.49,143.3 L473.73,143.14 L474.96,142.99 L476.2,142.83 L477.43,142.66 L478.66,142.5 L479.9,142.33 L481.14,142.15 L482.38,141.98 L483.63,141.79 L484.88,141.61 L486.15,141.41 L487.42,141.22 L488.7,141.01 L490,140.8 L491.44,140.56 L492.91,140.31 L494.41,140.05 L495.92,139.78 L497.45,139.51 L498.98,139.23 L500.53,138.94 L502.07,138.65 L503.6,138.36 L505.13,138.06 L506.64,137.76 L508.13,137.47 L509.6,137.17 L511.03,136.88 L512.44,136.59 L513.8,136.3 L514.9,136.06 L515.99,135.83 L517.06,135.59 L518.12,135.36 L519.16,135.12 L520.19,134.88 L521.21,134.65 L522.21,134.41 L523.21,134.17 L524.2,133.93 L525.18,133.7 L526.15,133.46 L527.12,133.22 L528.08,132.98 L529.04,132.74 L530,132.5 L530.85,132.28 L531.68,132.07 L532.5,131.86 L533.31,131.65 L534.11,131.44 L534.9,131.23 L535.69,131.02 L536.48,130.81 L537.26,130.59 L538.05,130.38 L538.85,130.16 L539.65,129.93 L540.47,129.71 L541.29,129.48 L542.14,129.24 L543,129 L544.03,128.71 L545.1,128.42 L546.21,128.13 L547.33,127.83 L548.47,127.52 L549.63,127.22 L550.79,126.9 L551.95,126.59 L553.11,126.27 L554.25,125.94 L555.37,125.61 L556.47,125.28 L557.54,124.94 L558.57,124.6 L559.56,124.25 L560.5,123.9 L561.18,123.63 L561.83,123.37 L562.46,123.1 L563.07,122.83 L563.66,122.56 L564.24,122.29 L564.81,122.01 L565.37,121.73 L565.93,121.45 L566.48,121.16 L567.03,120.87 L567.59,120.57 L568.15,120.27 L568.72,119.95 L569.3,119.63 L569.9,119.3 L570.58,118.92 L571.27,118.52 L571.96,118.12 L572.65,117.71 L573.34,117.29 L574.03,116.86 L574.73,116.43 L575.43,115.99 L576.14,115.54 L576.84,115.09 L577.56,114.63 L578.28,114.17 L579,113.71 L579.73,113.24 L580.46,112.77 L581.2,112.3 L582.04,111.76 L582.89,111.22 L583.75,110.66 L584.62,110.1 L585.5,109.53 L586.38,108.95 L587.27,108.37 L588.16,107.79 L589.05,107.2 L589.95,106.61 L590.84,106.02 L591.74,105.43 L592.64,104.84 L593.53,104.26 L594.42,103.68 L595.3,103.1 L596.18,102.53 L597.07,101.96 L597.95,101.4 L598.83,100.84 L599.72,100.28 L600.61,99.72 L601.49,99.16 L602.38,98.6 L603.26,98.04 L604.14,97.47 L605.02,96.9 L605.9,96.32 L606.78,95.73 L607.66,95.13 L608.53,94.52 L609.4,93.9 L610.31,93.24 L611.22,92.58 L612.14,91.9 L613.06,91.21 L613.98,90.52 L614.91,89.82 L615.83,89.11 L616.74,88.4 L617.65,87.68 L618.54,86.96 L619.43,86.24 L620.3,85.51 L621.15,84.78 L621.99,84.05 L622.81,83.33 L623.6,82.6 L624.29,81.95 L624.98,81.28 L625.67,80.6 L626.34,79.91 L627.01,79.22 L627.66,78.53 L628.31,77.83 L628.94,77.14 L629.56,76.45 L630.16,75.77 L630.75,75.1 L631.32,74.45 L631.87,73.81 L632.4,73.18 L632.91,72.58 L633.4,72 L633.73,71.61 L634.06,71.21 L634.38,70.83 L634.7,70.45 L635,70.07 L635.3,69.7 L635.59,69.33 L635.88,68.98 L636.15,68.63 L636.41,68.28 L636.66,67.95 L636.89,67.62 L637.12,67.3 L637.33,66.99 L637.52,66.69 L637.7,66.4 L637.8,66.23 L637.89,66.06 L637.98,65.9 L638.06,65.75 L638.13,65.59 L638.2,65.44 L638.26,65.3 L638.32,65.15 L638.38,65.01 L638.44,64.87 L638.5,64.72 L638.55,64.58 L638.61,64.44 L638.67,64.29 L638.73,64.15 L638.8,64 L642.2,147 L640.5,150 L640.04,150.13 L639.6,150.25 L639.17,150.38 L638.74,150.51 L638.33,150.64 L637.91,150.78 L637.49,150.91 L637.07,151.04 L636.63,151.17 L636.18,151.29 L635.72,151.42 L635.23,151.54 L634.72,151.66 L634.18,151.78 L633.61,151.89 L633,152 L631.71,152.2 L630.29,152.39 L628.73,152.56 L627.06,152.73 L625.29,152.88 L623.45,153.03 L621.54,153.17 L619.59,153.3 L617.61,153.42 L615.61,153.54 L613.62,153.66 L611.65,153.77 L609.72,153.88 L607.84,153.99 L606.03,154.09 L604.3,154.2 L602.84,154.29 L601.4,154.38 L599.98,154.46 L598.58,154.53 L597.18,154.61 L595.81,154.68 L594.44,154.75 L593.07,154.81 L591.72,154.87 L590.37,154.94 L589.01,155 L587.66,155.06 L586.31,155.12 L584.95,155.18 L583.58,155.24 L582.2,155.3 L580.83,155.36 L579.5,155.42 L578.2,155.48 L576.91,155.54 L575.63,155.6 L574.35,155.66 L573.07,155.72 L571.78,155.78 L570.46,155.83 L569.12,155.89 L567.74,155.94 L566.31,156 L564.83,156.05 L563.29,156.1 L561.68,156.15 L560,156.2 L557.04,156.28 L553.86,156.35 L550.48,156.42 L546.93,156.48 L543.23,156.54 L539.4,156.59 L535.48,156.65 L531.49,156.7 L527.45,156.76 L523.38,156.81 L519.33,156.87 L515.3,156.92 L511.33,156.99 L507.44,157.05 L503.65,157.12 L500,157.2 L496.73,157.28 L493.44,157.35 L490.16,157.44 L486.88,157.52 L483.61,157.61 L480.36,157.7 L477.13,157.79 L473.92,157.89 L470.75,157.98 L467.62,158.07 L464.53,158.17 L461.5,158.26 L458.52,158.35 L455.61,158.43 L452.77,158.52 L450,158.6 L447.92,158.66 L445.89,158.72 L443.91,158.78 L441.98,158.84 L440.08,158.9 L438.21,158.96 L436.37,159.02 L434.55,159.07 L432.75,159.13 L430.95,159.18 L429.16,159.24 L427.36,159.29 L425.55,159.35 L423.72,159.4 L421.87,159.45 L420,159.5 L418.08,159.55 L416.15,159.6 L414.22,159.64 L412.29,159.69 L410.35,159.73 L408.41,159.78 L406.47,159.82 L404.53,159.86 L402.59,159.91 L400.65,159.95 L398.7,159.99 L396.76,160.03 L394.82,160.07 L392.88,160.11 L390.94,160.16 L389,160.2 Z" fill="#fce39c"/>
<path d="M638.4,64 L643.8,64 L643.8,147 L642.6,147 L640.2,100 Z" fill="#a2cbbd"/>
<g opacity="0.55"><path d="M579.6,11 L577.96,11.28 L576.31,11.56 L574.67,11.86 L573.02,12.15 L571.38,12.46 L569.73,12.77 L568.09,13.09 L566.44,13.41 L564.8,13.74 L563.15,14.09 L561.5,14.43 L559.86,14.79 L558.22,15.16 L556.57,15.53 L554.93,15.91 L553.28,16.31 L551.63,16.71 L549.99,17.13 L548.35,17.55 L546.7,17.99 L545.06,18.43 L543.41,18.89 L541.76,19.36 L540.12,19.85 L538.48,20.35 L536.83,20.86 L535.19,21.39 L533.54,21.94 L531.89,22.5 L530.25,23.07 L528.61,23.67 L526.96,24.28 L525.32,24.92 L523.67,25.57 L522.02,26.25 L520.38,26.94 L518.74,27.67 L517.09,28.41 L515.45,29.19 L513.8,29.99 L512.15,30.82 L510.51,31.68 L508.87,32.57 L507.22,33.5 L505.58,34.47 L503.93,35.47 L502.29,36.52 L500.64,37.61 L499,38.74 L497.35,39.93 L495.71,41.17 L494.06,42.46 L492.42,43.82 L490.77,45.24 L489.12,46.73 L487.48,48.3 L485.84,49.95 L484.19,51.68 L482.55,53.51 L480.9,55.44 L479.25,57.48 L477.61,59.65 L475.97,61.95 L474.32,64.39 L472.68,66.99 L471.03,69.76 L469.38,72.73 L467.74,75.92 L466.1,79.34 L464.45,83.03 L462.81,87.02 L461.16,91.34 L459.51,96.04 L457.87,101.18 L456.23,106.82 L454.58,113.03 L452.94,119.9 L451.29,127.55 L449.64,136.11 L448,145.77 L448,158.66 L449.64,148.08 L451.29,138.69 L452.94,130.31 L454.58,122.78 L456.23,115.98 L457.87,109.81 L459.51,104.18 L461.16,99.02 L462.81,94.29 L464.45,89.92 L466.1,85.87 L467.74,82.13 L469.38,78.64 L471.03,75.38 L472.68,72.34 L474.32,69.49 L475.97,66.82 L477.61,64.3 L479.25,61.93 L480.9,59.69 L482.55,57.58 L484.19,55.57 L485.84,53.67 L487.48,51.87 L489.12,50.15 L490.77,48.52 L492.42,46.96 L494.06,45.47 L495.71,44.05 L497.35,42.7 L499,41.4 L500.64,40.15 L502.29,38.96 L503.93,37.81 L505.58,36.71 L507.22,35.66 L508.87,34.64 L510.51,33.66 L512.15,32.71 L513.8,31.8 L515.45,30.93 L517.09,30.08 L518.74,29.26 L520.38,28.47 L522.02,27.7 L523.67,26.96 L525.32,26.25 L526.96,25.55 L528.61,24.88 L530.25,24.23 L531.89,23.6 L533.54,22.98 L535.19,22.39 L536.83,21.81 L538.48,21.24 L540.12,20.7 L541.76,20.16 L543.41,19.65 L545.06,19.14 L546.7,18.65 L548.35,18.18 L549.99,17.71 L551.63,17.26 L553.28,16.82 L554.93,16.38 L556.57,15.96 L558.22,15.55 L559.86,15.15 L561.5,14.76 L563.15,14.38 L564.8,14.01 L566.44,13.64 L568.09,13.29 L569.73,12.94 L571.38,12.6 L573.02,12.26 L574.67,11.94 L576.31,11.62 L577.96,11.31 L579.6,11 Z M579.6,11 L578.33,11.38 L577.06,11.77 L575.79,12.17 L574.52,12.57 L573.25,12.99 L571.98,13.41 L570.71,13.84 L569.44,14.28 L568.17,14.73 L566.9,15.19 L565.63,15.65 L564.36,16.13 L563.09,16.62 L561.82,17.12 L560.55,17.63 L559.28,18.15 L558.01,18.69 L556.74,19.24 L555.47,19.8 L554.2,20.37 L552.93,20.96 L551.66,21.56 L550.39,22.18 L549.12,22.81 L547.85,23.45 L546.58,24.12 L545.31,24.8 L544.04,25.5 L542.77,26.22 L541.5,26.96 L540.23,27.72 L538.96,28.49 L537.69,29.3 L536.42,30.12 L535.15,30.97 L533.88,31.84 L532.61,32.74 L531.34,33.67 L530.07,34.62 L528.8,35.61 L527.53,36.62 L526.26,37.67 L524.99,38.75 L523.72,39.87 L522.45,41.03 L521.18,42.23 L519.91,43.47 L518.64,44.75 L517.37,46.08 L516.1,47.46 L514.83,48.9 L513.56,50.38 L512.29,51.93 L511.02,53.54 L509.75,55.21 L508.48,56.96 L507.21,58.77 L505.94,60.67 L504.67,62.65 L503.4,64.72 L502.13,66.89 L500.86,69.17 L499.59,71.55 L498.32,74.05 L497.05,76.68 L495.78,79.45 L494.51,82.37 L493.24,85.46 L491.97,88.72 L490.7,92.17 L489.43,95.83 L488.16,99.72 L486.89,103.87 L485.62,108.29 L484.35,113.02 L483.08,118.08 L481.81,123.53 L480.54,129.39 L479.27,135.72 L478,142.59 L478,157.77 L479.27,150.11 L480.54,143.05 L481.81,136.51 L483.08,130.44 L484.35,124.79 L485.62,119.52 L486.89,114.58 L488.16,109.96 L489.43,105.62 L490.7,101.54 L491.97,97.69 L493.24,94.05 L494.51,90.61 L495.78,87.35 L497.05,84.26 L498.32,81.33 L499.59,78.54 L500.86,75.88 L502.13,73.34 L503.4,70.92 L504.67,68.61 L505.94,66.4 L507.21,64.29 L508.48,62.26 L509.75,60.31 L511.02,58.45 L512.29,56.65 L513.56,54.93 L514.83,53.27 L516.1,51.67 L517.37,50.13 L518.64,48.65 L519.91,47.22 L521.18,45.83 L522.45,44.5 L523.72,43.21 L524.99,41.96 L526.26,40.75 L527.53,39.58 L528.8,38.44 L530.07,37.35 L531.34,36.28 L532.61,35.25 L533.88,34.25 L535.15,33.27 L536.42,32.33 L537.69,31.41 L538.96,30.51 L540.23,29.64 L541.5,28.8 L542.77,27.98 L544.04,27.17 L545.31,26.39 L546.58,25.63 L547.85,24.89 L549.12,24.17 L550.39,23.46 L551.66,22.78 L552.93,22.11 L554.2,21.45 L555.47,20.81 L556.74,20.19 L558.01,19.58 L559.28,18.98 L560.55,18.4 L561.82,17.83 L563.09,17.27 L564.36,16.72 L565.63,16.19 L566.9,15.67 L568.17,15.16 L569.44,14.66 L570.71,14.17 L571.98,13.69 L573.25,13.22 L574.52,12.76 L575.79,12.3 L577.06,11.86 L578.33,11.43 L579.6,11 Z M579.6,11 L578.81,11.23 L578.02,11.47 L577.23,11.72 L576.44,11.97 L575.64,12.23 L574.85,12.49 L574.06,12.76 L573.27,13.03 L572.48,13.31 L571.69,13.6 L570.9,13.89 L570.11,14.2 L569.31,14.51 L568.52,14.82 L567.73,15.15 L566.94,15.48 L566.15,15.82 L565.36,16.17 L564.57,16.53 L563.77,16.9 L562.98,17.28 L562.19,17.67 L561.4,18.08 L560.61,18.49 L559.82,18.91 L559.03,19.35 L558.24,19.8 L557.45,20.27 L556.65,20.74 L555.86,21.24 L555.07,21.75 L554.28,22.27 L553.49,22.82 L552.7,23.38 L551.91,23.96 L551.12,24.56 L550.32,25.18 L549.53,25.82 L548.74,26.49 L547.95,27.18 L547.16,27.9 L546.37,28.64 L545.58,29.42 L544.78,30.22 L543.99,31.06 L543.2,31.93 L542.41,32.84 L541.62,33.79 L540.83,34.78 L540.04,35.82 L539.25,36.9 L538.45,38.04 L537.66,39.23 L536.87,40.48 L536.08,41.8 L535.29,43.19 L534.5,44.65 L533.71,46.19 L532.92,47.82 L532.12,49.54 L531.33,51.37 L530.54,53.31 L529.75,55.38 L528.96,57.59 L528.17,59.95 L527.38,62.48 L526.59,65.19 L525.79,68.12 L525,71.27 L524.21,74.69 L523.42,78.41 L522.63,82.47 L521.84,86.91 L521.05,91.79 L520.26,97.19 L519.46,103.19 L518.67,109.9 L517.88,117.44 L517.09,125.99 L516.3,135.76 L516.3,156.91 L517.09,145.49 L517.88,135.49 L518.67,126.67 L519.46,118.82 L520.26,111.81 L521.05,105.49 L521.84,99.78 L522.63,94.58 L523.42,89.84 L524.21,85.49 L525,81.49 L525.79,77.8 L526.59,74.38 L527.38,71.2 L528.17,68.25 L528.96,65.49 L529.75,62.91 L530.54,60.49 L531.33,58.21 L532.12,56.07 L532.92,54.06 L533.71,52.15 L534.5,50.35 L535.29,48.64 L536.08,47.02 L536.87,45.48 L537.66,44.02 L538.45,42.62 L539.25,41.3 L540.04,40.03 L540.83,38.81 L541.62,37.65 L542.41,36.54 L543.2,35.48 L543.99,34.46 L544.78,33.48 L545.58,32.54 L546.37,31.63 L547.16,30.76 L547.95,29.92 L548.74,29.11 L549.53,28.33 L550.32,27.58 L551.12,26.85 L551.91,26.15 L552.7,25.48 L553.49,24.82 L554.28,24.18 L555.07,23.57 L555.86,22.97 L556.65,22.4 L557.45,21.84 L558.24,21.29 L559.03,20.77 L559.82,20.26 L560.61,19.76 L561.4,19.28 L562.19,18.81 L562.98,18.35 L563.77,17.9 L564.57,17.47 L565.36,17.05 L566.15,16.64 L566.94,16.24 L567.73,15.85 L568.52,15.47 L569.31,15.1 L570.11,14.74 L570.9,14.39 L571.69,14.04 L572.48,13.7 L573.27,13.38 L574.06,13.06 L574.85,12.74 L575.64,12.44 L576.44,12.14 L577.23,11.84 L578.02,11.56 L578.81,11.27 L579.6,11 Z M579.6,11 L579.47,11.04 L579.33,11.08 L579.2,11.13 L579.07,11.17 L578.93,11.22 L578.8,11.26 L578.66,11.31 L578.53,11.36 L578.4,11.41 L578.26,11.46 L578.13,11.52 L578,11.57 L577.86,11.63 L577.73,11.69 L577.59,11.75 L577.46,11.81 L577.33,11.87 L577.19,11.94 L577.06,12.01 L576.92,12.08 L576.79,12.15 L576.66,12.22 L576.52,12.3 L576.39,12.38 L576.26,12.46 L576.12,12.55 L575.99,12.64 L575.86,12.73 L575.72,12.83 L575.59,12.92 L575.45,13.03 L575.32,13.13 L575.19,13.25 L575.05,13.36 L574.92,13.48 L574.78,13.61 L574.65,13.74 L574.52,13.88 L574.38,14.02 L574.25,14.17 L574.12,14.33 L573.98,14.49 L573.85,14.67 L573.72,14.85 L573.58,15.04 L573.45,15.25 L573.31,15.46 L573.18,15.69 L573.05,15.93 L572.91,16.18 L572.78,16.46 L572.64,16.74 L572.51,17.05 L572.38,17.38 L572.24,17.74 L572.11,18.12 L571.98,18.53 L571.84,18.98 L571.71,19.46 L571.58,19.99 L571.44,20.56 L571.31,21.19 L571.17,21.89 L571.04,22.66 L570.91,23.52 L570.77,24.49 L570.64,25.58 L570.5,26.82 L570.37,28.24 L570.24,29.89 L570.1,31.83 L569.97,34.14 L569.84,36.94 L569.7,40.4 L569.57,44.78 L569.43,50.52 L569.3,58.35 L569.17,69.69 L569.03,87.55 L568.9,119.85 L568.9,155.9 L569.03,112.9 L569.17,89.12 L569.3,74.03 L569.43,63.61 L569.57,55.97 L569.7,50.13 L569.84,45.53 L569.97,41.8 L570.1,38.73 L570.24,36.15 L570.37,33.95 L570.5,32.05 L570.64,30.4 L570.77,28.95 L570.91,27.67 L571.04,26.52 L571.17,25.5 L571.31,24.57 L571.44,23.73 L571.58,22.96 L571.71,22.26 L571.84,21.62 L571.98,21.03 L572.11,20.48 L572.24,19.97 L572.38,19.5 L572.51,19.06 L572.64,18.65 L572.78,18.26 L572.91,17.9 L573.05,17.56 L573.18,17.24 L573.31,16.94 L573.45,16.65 L573.58,16.38 L573.72,16.12 L573.85,15.88 L573.98,15.65 L574.12,15.43 L574.25,15.22 L574.38,15.02 L574.52,14.83 L574.65,14.65 L574.78,14.47 L574.92,14.3 L575.05,14.14 L575.19,13.99 L575.32,13.84 L575.45,13.7 L575.59,13.56 L575.72,13.43 L575.86,13.3 L575.99,13.18 L576.12,13.06 L576.26,12.95 L576.39,12.84 L576.52,12.73 L576.66,12.63 L576.79,12.53 L576.92,12.43 L577.06,12.34 L577.19,12.25 L577.33,12.16 L577.46,12.08 L577.59,12 L577.73,11.92 L577.86,11.84 L578,11.76 L578.13,11.69 L578.26,11.62 L578.4,11.55 L578.53,11.48 L578.66,11.42 L578.8,11.35 L578.93,11.29 L579.07,11.23 L579.2,11.17 L579.33,11.11 L579.47,11.06 L579.6,11 Z" fill="#a0c590" stroke="#a0c590" stroke-width="0.5" stroke-linejoin="round"/></g>
<path d="M579.6,11 L579.47,11.06 L579.33,11.11 L579.2,11.17 L579.07,11.23 L578.93,11.29 L578.8,11.35 L578.66,11.42 L578.53,11.48 L578.4,11.55 L578.26,11.62 L578.13,11.69 L578,11.76 L577.86,11.84 L577.73,11.92 L577.59,12 L577.46,12.08 L577.33,12.16 L577.19,12.25 L577.06,12.34 L576.92,12.44 L576.79,12.53 L576.66,12.63 L576.52,12.73 L576.39,12.84 L576.26,12.95 L576.12,13.06 L575.99,13.18 L575.86,13.31 L575.72,13.43 L575.59,13.56 L575.45,13.7 L575.32,13.84 L575.19,13.99 L575.05,14.15 L574.92,14.31 L574.78,14.47 L574.65,14.65 L574.52,14.83 L574.38,15.02 L574.25,15.22 L574.12,15.43 L573.98,15.65 L573.85,15.89 L573.72,16.13 L573.58,16.39 L573.45,16.66 L573.31,16.94 L573.18,17.24 L573.05,17.56 L572.91,17.9 L572.78,18.27 L572.64,18.65 L572.51,19.06 L572.38,19.5 L572.24,19.98 L572.11,20.49 L571.98,21.03 L571.84,21.63 L571.71,22.27 L571.58,22.97 L571.44,23.74 L571.31,24.58 L571.17,25.51 L571.04,26.54 L570.91,27.68 L570.77,28.97 L570.64,30.42 L570.5,32.07 L570.37,33.96 L570.24,36.17 L570.1,38.75 L569.97,41.83 L569.84,45.55 L569.7,50.16 L569.57,56 L569.43,63.64 L569.3,74.08 L569.17,89.18 L569.03,112.97 L568.9,156" fill="none" stroke="#8fbf7f" stroke-width="0.9"/>
<path d="M388.6,56.9 L390.2,56.26 L391.79,55.62 L393.37,54.97 L394.95,54.32 L396.53,53.67 L398.11,53.02 L399.69,52.37 L401.27,51.72 L402.86,51.07 L404.45,50.43 L406.05,49.79 L407.66,49.16 L409.27,48.53 L410.9,47.91 L412.54,47.3 L414.2,46.7 L415.96,46.08 L417.74,45.46 L419.53,44.85 L421.34,44.25 L423.15,43.65 L424.98,43.06 L426.81,42.47 L428.65,41.89 L430.49,41.31 L432.34,40.74 L434.19,40.18 L436.04,39.62 L437.88,39.06 L439.73,38.5 L441.57,37.95 L443.4,37.4 L445.22,36.86 L447.04,36.31 L448.86,35.78 L450.69,35.24 L452.51,34.71 L454.33,34.18 L456.15,33.66 L457.98,33.14 L459.8,32.63 L461.63,32.12 L463.46,31.62 L465.28,31.12 L467.11,30.63 L468.94,30.15 L470.77,29.67 L472.6,29.2 L474.42,28.74 L476.24,28.29 L478.06,27.84 L479.88,27.4 L481.71,26.96 L483.53,26.53 L485.36,26.11 L487.18,25.69 L489.01,25.28 L490.83,24.87 L492.66,24.47 L494.49,24.07 L496.32,23.67 L498.14,23.28 L499.97,22.89 L501.8,22.5 L503.62,22.12 L505.44,21.74 L507.27,21.37 L509.09,20.99 L510.91,20.63 L512.74,20.26 L514.56,19.91 L516.39,19.55 L518.21,19.2 L520.04,18.86 L521.86,18.52 L523.69,18.18 L525.52,17.86 L527.34,17.53 L529.17,17.21 L531,16.9 L532.84,16.59 L534.71,16.29 L536.61,15.99 L538.52,15.69 L540.45,15.39 L542.37,15.1 L544.29,14.82 L546.21,14.54 L548.1,14.27 L549.96,14.01 L551.79,13.75 L553.59,13.5 L555.33,13.26 L557.02,13.03 L558.64,12.81 L560.2,12.6 L561.26,12.46 L562.29,12.33 L563.28,12.2 L564.25,12.08 L565.19,11.96 L566.11,11.85 L567.02,11.74 L567.91,11.63 L568.79,11.53 L569.67,11.43 L570.54,11.33 L571.42,11.23 L572.3,11.12 L573.18,11.02 L574.08,10.91 L575,10.8" fill="none" stroke="#8a8a8a" stroke-width="0.9"/>
<path d="M644.2,64.4 L655.3,96 M655.3,110 L644.2,145.3" fill="none" stroke="#6a6a6a" stroke-width="0.8"/>
<path d="M432.8,156.8 L396,156.8" stroke="#ed7d31" stroke-width="1.2"/>
<path d="M390.3,156.8 L396.8,154.1 L396.8,159.5 Z" fill="#ed7d31"/>
<path d="M423.1,157.4 L419,173.4" stroke="#ed7d31" stroke-width="0.7"/>
<circle cx="497.25" cy="42.5" r="4.3" fill="#60cde0" stroke="#2f3f45" stroke-width="0.8"/>
<circle cx="488.75" cy="117.5" r="4.3" fill="#60cde0" stroke="#2f3f45" stroke-width="0.8"/>
<circle cx="566.6" cy="75.6" r="4.3" fill="#60cde0" stroke="#2f3f45" stroke-width="0.8"/>
<circle cx="547.7" cy="84.5" r="4.3" fill="#60cde0" stroke="#2f3f45" stroke-width="0.8"/>
<circle cx="565.4" cy="84.5" r="4.3" fill="#60cde0" stroke="#2f3f45" stroke-width="0.8"/>
<circle cx="555.5" cy="92.7" r="4.3" fill="#60cde0" stroke="#2f3f45" stroke-width="0.8"/>
<circle cx="564.3" cy="92.7" r="4.3" fill="#60cde0" stroke="#2f3f45" stroke-width="0.8"/>
<circle cx="558.1" cy="100.9" r="4.3" fill="#60cde0" stroke="#2f3f45" stroke-width="0.8"/>
<circle cx="561" cy="142.5" r="4.3" fill="#60cde0" stroke="#2f3f45" stroke-width="0.8"/>
<circle cx="578.1" cy="142.5" r="4.3" fill="#60cde0" stroke="#2f3f45" stroke-width="0.8"/>
<circle cx="588.7" cy="167.3" r="4.3" fill="#60cde0" stroke="#2f3f45" stroke-width="0.8"/>
<circle cx="440.5" cy="159.3" r="4.3" fill="#60cde0" stroke="#2f3f45" stroke-width="0.8"/>
<circle cx="410.7" cy="150.8" r="4.3" fill="#60cde0" stroke="#2f3f45" stroke-width="0.8"/>
<circle cx="412.7" cy="150.8" r="4.3" fill="#60cde0" stroke="#2f3f45" stroke-width="0.8"/>
<rect x="561.2" y="113.5" width="8.4" height="8.4" fill="#fff38a" stroke="#6b6b4a" stroke-width="0.8"/>
<rect x="561.2" y="121.3" width="8.4" height="8.4" fill="#fff38a" stroke="#6b6b4a" stroke-width="0.8"/>
<rect x="553.9" y="129.9" width="8.4" height="8.4" fill="#fff38a" stroke="#6b6b4a" stroke-width="0.8"/>
<rect x="567.9" y="129.9" width="8.4" height="8.4" fill="#fff38a" stroke="#6b6b4a" stroke-width="0.8"/>
<rect x="538.1" y="155.1" width="8.4" height="8.4" fill="#fff38a" stroke="#6b6b4a" stroke-width="0.8"/>
<rect x="535.9" y="146.7" width="8.4" height="8.4" fill="#fff38a" stroke="#6b6b4a" stroke-width="0.8"/>
<rect x="507.5" y="138.8" width="8.4" height="8.4" fill="#fff38a" stroke="#6b6b4a" stroke-width="0.8"/>
<rect x="504.6" y="138.8" width="8.4" height="8.4" fill="#fff38a" stroke="#6b6b4a" stroke-width="0.8"/>
<rect x="400.9" y="146.6" width="8.4" height="8.4" fill="#fff38a" stroke="#6b6b4a" stroke-width="0.8"/>
<rect x="637.5" y="53.4" width="12" height="12" fill="#8c8c8c" stroke="#d4d4d4" stroke-width="0.8" rx="0.8"/>
<path d="M638.1,54 L648.9,64.8 M638.1,64.8 L648.9,54" stroke="#ffffff" stroke-width="1.15"/>
<rect x="637.65" y="145.35" width="12.1" height="12.1" fill="#8c8c8c" stroke="#d4d4d4" stroke-width="0.8" rx="0.8"/>
<path d="M638.25,145.95 L649.15,156.85 M638.25,156.85 L649.15,145.95" stroke="#ffffff" stroke-width="1.15"/>
<rect x="573.6" y="5.05" width="12" height="12" fill="#5b9bd5" stroke="#c8ddf2" stroke-width="0.8" rx="0.8"/>
<path d="M574.2,5.65 L585,16.45 M574.2,16.45 L585,5.65" stroke="#ffffff" stroke-width="1.15"/>
<rect x="388.5" y="0.8" width="283.1" height="208.45" fill="none" stroke="#000" stroke-width="1.3" stroke-linejoin="round"/>
<rect x="388" y="0" width="284.3" height="1.75" fill="#5a5a5a"/>
<path d="M388.6,9.1 L391.2,9.1 M388.6,42.42 L391.2,42.42 M388.6,75.74 L391.2,75.74 M388.6,109.06 L391.2,109.06 M388.6,142.38 L391.2,142.38 M388.6,175.7 L391.2,175.7 M388.6,209.02 L391.2,209.02 " stroke="#111" stroke-width="1"/>
<path d="M459.5,209 L459.5,206.4 M530.5,209 L530.5,206.4 M601.25,209 L601.25,206.4 " stroke="#111" stroke-width="1"/>
<text x="382.7" y="12.6" font-size="10.3" text-anchor="end" fill="#1a1a1a" font-weight="normal" textLength="21.7" lengthAdjust="spacingAndGlyphs" letter-spacing="0.7">0.20</text>
<text x="382.7" y="79.3" font-size="10.3" text-anchor="end" fill="#1a1a1a" font-weight="normal" textLength="21.7" lengthAdjust="spacingAndGlyphs" letter-spacing="0.7">0.12</text>
<text x="382.7" y="146.2" font-size="10.3" text-anchor="end" fill="#1a1a1a" font-weight="normal" textLength="21.7" lengthAdjust="spacingAndGlyphs" letter-spacing="0.7">0.04</text>
<text x="382.7" y="211.6" font-size="10.3" text-anchor="end" fill="#1a1a1a" font-weight="normal" textLength="25.7" lengthAdjust="spacingAndGlyphs" letter-spacing="0.7">-0.04</text>
<text x="385.75" y="224.2" font-size="10.3" text-anchor="middle" fill="#1a1a1a" font-weight="normal" textLength="34" lengthAdjust="spacingAndGlyphs" letter-spacing="0.7">0.5128</text>
<text x="456.25" y="224.2" font-size="10.3" text-anchor="middle" fill="#1a1a1a" font-weight="normal" textLength="34" lengthAdjust="spacingAndGlyphs" letter-spacing="0.7">0.5129</text>
<text x="527.15" y="224.2" font-size="10.3" text-anchor="middle" fill="#1a1a1a" font-weight="normal" textLength="34" lengthAdjust="spacingAndGlyphs" letter-spacing="0.7">0.5130</text>
<text x="597.45" y="224.2" font-size="10.3" text-anchor="middle" fill="#1a1a1a" font-weight="normal" textLength="34" lengthAdjust="spacingAndGlyphs" letter-spacing="0.7">0.5131</text>
<text x="668.85" y="224.2" font-size="10.3" text-anchor="middle" fill="#1a1a1a" font-weight="normal" textLength="34" lengthAdjust="spacingAndGlyphs" letter-spacing="0.7">0.5132</text>
<text transform="translate(354.1,137) rotate(-90)" font-size="10.7" fill="#1a1a1a" textLength="69.8" lengthAdjust="spacingAndGlyphs">&#948;<tspan font-size="7" dy="-3.6">138/134</tspan><tspan dy="3.6">Ba (&#8240;)</tspan></text>
<text x="504.2" y="238.3" font-size="10.7" fill="#1a1a1a" textLength="54.8" lengthAdjust="spacingAndGlyphs"><tspan font-size="7" dy="-3.8">143</tspan><tspan dy="3.8">Nd/</tspan><tspan font-size="7" dy="-3.8">144</tspan><tspan dy="3.8">Nd</tspan></text>
<text x="400.2" y="22.8" font-size="15.5" text-anchor="start" fill="#111" font-weight="bold">b</text>
<text x="586.5" y="22.9" font-size="13.3" text-anchor="start" fill="#5b9bd5" font-weight="bold" textLength="66.3" lengthAdjust="spacingAndGlyphs" letter-spacing="0.6" stroke="#fff" stroke-width="1.6" paint-order="stroke">AOC fluid</text>
<text x="635.5" y="106.5" font-size="13.8" text-anchor="start" fill="#878787" font-weight="bold" textLength="35.8" lengthAdjust="spacingAndGlyphs" letter-spacing="1.6" stroke="#fff" stroke-width="1.6" paint-order="stroke">DMM</text>
<text x="434.2" y="170.8" font-size="10" text-anchor="start" fill="#ed7d31" font-weight="normal" textLength="22.6" lengthAdjust="spacingAndGlyphs" letter-spacing="0.8">0.8%</text>
<text x="466.25" y="168.5" font-size="10" text-anchor="start" fill="#ed7d31" font-weight="normal" textLength="23.3" lengthAdjust="spacingAndGlyphs" letter-spacing="0.8">0.6%</text>
<text x="505.5" y="167.5" font-size="10" text-anchor="start" fill="#ed7d31" font-weight="normal" textLength="22.8" lengthAdjust="spacingAndGlyphs" letter-spacing="0.8">0.4%</text>
<text x="557" y="167.5" font-size="10" text-anchor="start" fill="#ed7d31" font-weight="normal" textLength="22.5" lengthAdjust="spacingAndGlyphs" letter-spacing="0.8">0.2%</text>
<text x="394.5" y="181" font-size="11.5" text-anchor="start" fill="#ed7d31" font-weight="bold" textLength="34.6" lengthAdjust="spacingAndGlyphs" letter-spacing="1">Meta-</text>
<text x="394.5" y="194.5" font-size="11.5" text-anchor="start" fill="#ed7d31" font-weight="bold" textLength="57.1" lengthAdjust="spacingAndGlyphs" letter-spacing="1">sediment</text>
<path d="M54,308.5 L55.31,308.43 L56.6,308.35 L57.88,308.28 L59.16,308.2 L60.44,308.13 L61.71,308.06 L62.99,307.99 L64.27,307.91 L65.55,307.84 L66.85,307.76 L68.16,307.69 L69.49,307.61 L70.83,307.54 L72.2,307.46 L73.58,307.38 L75,307.3 L76.73,307.2 L78.5,307.1 L80.31,306.99 L82.14,306.88 L84.01,306.77 L85.89,306.66 L87.8,306.55 L89.72,306.44 L91.64,306.33 L93.57,306.22 L95.51,306.11 L97.43,306 L99.35,305.89 L101.25,305.79 L103.14,305.69 L105,305.6 L106.8,305.51 L108.59,305.43 L110.39,305.34 L112.18,305.26 L113.96,305.18 L115.75,305.11 L117.53,305.03 L119.31,304.95 L121.08,304.88 L122.85,304.81 L124.62,304.74 L126.38,304.67 L128.14,304.6 L129.9,304.53 L131.65,304.47 L133.4,304.4 L135.09,304.34 L136.76,304.27 L138.43,304.21 L140.09,304.15 L141.75,304.09 L143.41,304.03 L145.06,303.98 L146.71,303.92 L148.36,303.87 L150.01,303.81 L151.67,303.76 L153.32,303.7 L154.98,303.65 L156.65,303.6 L158.32,303.55 L160,303.5 L161.73,303.45 L163.47,303.4 L165.21,303.35 L166.95,303.31 L168.7,303.26 L170.45,303.22 L172.2,303.18 L173.95,303.14 L175.71,303.09 L177.47,303.05 L179.23,303.01 L180.98,302.97 L182.74,302.93 L184.5,302.89 L186.25,302.84 L188,302.8 L188,305.5 L183.92,305.98 L182.27,306.56 L180.62,307.14 L178.96,307.73 L177.31,308.32 L175.65,308.93 L174,309.54 L172.34,310.15 L170.69,310.78 L169.03,311.41 L167.38,312.05 L165.73,312.69 L164.07,313.35 L162.42,314.01 L160.76,314.68 L159.11,315.36 L157.45,316.05 L155.8,316.74 L154.14,317.44 L152.49,318.16 L150.84,318.88 L149.18,319.61 L147.53,320.35 L145.87,321.09 L144.22,321.85 L142.56,322.62 L140.91,323.4 L139.26,324.19 L137.6,324.99 L135.95,325.79 L134.29,326.61 L132.64,327.45 L130.98,328.29 L129.33,329.14 L127.67,330.01 L126.02,330.88 L124.37,331.77 L122.71,332.67 L121.06,333.59 L119.4,334.52 L117.75,335.46 L116.09,336.41 L114.44,337.38 L112.79,338.36 L111.13,339.36 L109.48,340.37 L107.82,341.4 L106.17,342.44 L104.51,343.5 L102.86,344.57 L101.2,345.66 L99.55,346.77 L97.9,347.89 L96.24,349.04 L94.59,350.2 L92.93,351.37 L91.28,352.57 L89.62,353.79 L87.97,355.03 L86.32,356.29 L84.66,357.56 L83.01,358.86 L81.35,360.19 L79.7,361.53 L78.04,362.9 L76.39,364.29 L74.73,365.71 L73.08,367.15 L71.43,368.62 L69.77,370.11 L68.12,371.63 L66.46,373.18 L64.81,374.76 L63.15,376.36 L61.5,378 L48,400 L48,312 Z" fill="#b8e1f3"/>
<path d="M62.2,376 L62.55,376.88 L62.89,377.76 L63.22,378.64 L63.56,379.53 L63.89,380.42 L64.22,381.3 L64.55,382.19 L64.89,383.08 L65.23,383.96 L65.57,384.84 L65.92,385.72 L66.27,386.59 L66.64,387.45 L67.01,388.31 L67.4,389.16 L67.8,390 L68.2,390.82 L68.6,391.63 L69.01,392.45 L69.43,393.26 L69.85,394.07 L70.28,394.87 L70.71,395.67 L71.16,396.47 L71.61,397.25 L72.07,398.03 L72.53,398.8 L73.01,399.56 L73.49,400.31 L73.98,401.05 L74.49,401.78 L75,402.5 L75.5,403.18 L76.01,403.84 L76.52,404.5 L77.03,405.14 L77.56,405.78 L78.09,406.41 L78.63,407.03 L79.17,407.64 L79.73,408.24 L80.3,408.85 L80.88,409.44 L81.48,410.04 L82.09,410.63 L82.71,411.22 L83.35,411.81 L84,412.4 L84.76,413.08 L85.54,413.75 L86.34,414.42 L87.15,415.1 L87.98,415.76 L88.82,416.43 L89.68,417.09 L90.56,417.74 L91.45,418.38 L92.36,419.02 L93.29,419.65 L94.23,420.26 L95.2,420.87 L96.18,421.46 L97.18,422.04 L98.2,422.6 L99.43,423.24 L100.71,423.87 L102.03,424.49 L103.39,425.09 L104.78,425.67 L106.2,426.24 L107.63,426.8 L109.09,427.34 L110.55,427.87 L112.01,428.39 L113.48,428.89 L114.94,429.38 L116.39,429.86 L117.81,430.32 L119.22,430.77 L120.6,431.2 L121.83,431.58 L123.04,431.93 L124.24,432.27 L125.42,432.58 L126.59,432.89 L127.76,433.17 L128.93,433.45 L130.1,433.73 L131.27,434 L132.46,434.26 L133.66,434.53 L134.88,434.81 L136.11,435.09 L137.38,435.38 L138.67,435.68 L140,436 L141.68,436.42 L143.38,436.85 L145.11,437.3 L146.85,437.77 L148.62,438.24 L150.42,438.72 L152.24,439.2 L154.09,439.68 L155.97,440.16 L157.87,440.64 L159.81,441.1 L161.78,441.56 L163.78,442 L165.82,442.42 L167.89,442.82 L170,443.2 L172.76,443.65 L175.62,444.08 L178.56,444.49 L181.58,444.87 L184.65,445.24 L187.79,445.59 L190.96,445.92 L194.17,446.24 L197.41,446.54 L200.67,446.84 L203.93,447.12 L207.19,447.4 L210.43,447.68 L213.66,447.95 L216.85,448.23 L220,448.5 L223.12,448.77 L226.24,449.03 L229.35,449.28 L232.47,449.53 L235.58,449.76 L238.69,449.99 L241.8,450.21 L244.92,450.43 L248.03,450.64 L251.15,450.84 L254.28,451.04 L257.41,451.24 L260.55,451.43 L263.69,451.62 L266.84,451.81 L270,452 L273.25,452.19 L276.5,452.36 L279.76,452.54 L283.03,452.7 L286.31,452.86 L289.59,453.02 L292.88,453.17 L296.17,453.32 L299.46,453.47 L302.75,453.61 L306.05,453.76 L309.34,453.9 L312.64,454.05 L315.93,454.19 L319.22,454.35 L322.5,454.5 L322.5,457.8 L319.22,457.75 L315.93,457.71 L312.64,457.66 L309.34,457.62 L306.05,457.58 L302.76,457.53 L299.46,457.49 L296.17,457.45 L292.88,457.4 L289.59,457.35 L286.31,457.31 L283.03,457.25 L279.76,457.2 L276.5,457.14 L273.25,457.07 L270,457 L266.84,456.93 L263.69,456.85 L260.55,456.76 L257.41,456.67 L254.28,456.58 L251.16,456.49 L248.04,456.39 L244.92,456.29 L241.81,456.19 L238.7,456.09 L235.58,455.99 L232.47,455.89 L229.36,455.79 L226.24,455.69 L223.12,455.6 L220,455.5 L216.85,455.41 L213.66,455.33 L210.44,455.25 L207.2,455.17 L203.95,455.1 L200.69,455.02 L197.44,454.95 L194.2,454.87 L190.99,454.79 L187.82,454.7 L184.68,454.61 L181.6,454.51 L178.59,454.4 L175.64,454.28 L172.77,454.15 L170,454 L167.9,453.88 L165.84,453.75 L163.81,453.61 L161.81,453.47 L159.84,453.33 L157.9,453.18 L155.99,453.02 L154.11,452.86 L152.26,452.7 L150.43,452.54 L148.63,452.37 L146.86,452.2 L145.11,452.03 L143.38,451.85 L141.68,451.68 L140,451.5 L138.67,451.36 L137.38,451.21 L136.12,451.07 L134.88,450.93 L133.67,450.78 L132.47,450.63 L131.29,450.48 L130.12,450.33 L128.95,450.18 L127.79,450.02 L126.62,449.86 L125.44,449.7 L124.26,449.53 L123.06,449.36 L121.84,449.18 L120.6,449 L119.23,448.8 L117.84,448.61 L116.42,448.42 L114.98,448.23 L113.53,448.04 L112.07,447.85 L110.61,447.65 L109.15,447.44 L107.7,447.22 L106.26,446.99 L104.84,446.75 L103.44,446.5 L102.08,446.23 L100.74,445.94 L99.45,445.63 L98.2,445.3 L97.21,445.01 L96.25,444.71 L95.31,444.4 L94.4,444.08 L93.51,443.75 L92.63,443.41 L91.76,443.06 L90.91,442.7 L90.06,442.33 L89.21,441.96 L88.36,441.58 L87.51,441.19 L86.65,440.8 L85.78,440.41 L84.9,440 L84,439.6 L83,439.15 L81.97,438.68 L80.92,438.2 L79.86,437.71 L78.78,437.21 L77.7,436.69 L76.62,436.18 L75.55,435.66 L74.48,435.13 L73.44,434.61 L72.41,434.09 L71.42,433.58 L70.45,433.07 L69.52,432.57 L68.64,432.08 L67.8,431.6 L67.23,431.27 L66.68,430.96 L66.15,430.65 L65.63,430.35 L65.13,430.05 L64.63,429.76 L64.16,429.47 L63.69,429.17 L63.23,428.88 L62.78,428.57 L62.34,428.26 L61.9,427.94 L61.47,427.6 L61.04,427.25 L60.62,426.89 L60.2,426.5 L59.76,426.08 L59.33,425.63 L58.91,425.17 L58.49,424.7 L58.08,424.21 L57.67,423.71 L57.28,423.2 L56.89,422.69 L56.51,422.16 L56.14,421.64 L55.78,421.11 L55.42,420.58 L55.08,420.05 L54.74,419.53 L54.42,419.01 L54.1,418.5 L53.82,418.04 L53.56,417.57 L53.31,417.11 L53.07,416.64 L52.84,416.17 L52.61,415.7 L52.4,415.23 L52.18,414.76 L51.98,414.29 L51.77,413.82 L51.56,413.35 L51.36,412.88 L51.15,412.41 L50.94,411.94 L50.72,411.47 L50.5,411 L48,402 Z" fill="#fce39c"/>
<path d="M48,315 L61.6,357.5 L62.2,376 L53.5,400.6 L48,400.6 Z" fill="#b5d4bb"/>
<path d="M194,303.5 L191.9,304.51 L189.79,305.54 L187.69,306.57 L185.59,307.62 L183.48,308.68 L181.38,309.74 L179.28,310.82 L177.17,311.91 L175.07,313.01 L172.97,314.12 L170.86,315.25 L168.76,316.38 L166.66,317.53 L164.55,318.69 L162.45,319.86 L160.35,321.05 L158.24,322.25 L156.14,323.46 L154.04,324.69 L151.93,325.93 L149.83,327.18 L147.73,328.45 L145.62,329.73 L143.52,331.02 L141.42,332.33 L139.31,333.66 L137.21,335 L135.11,336.36 L133,337.73 L130.9,339.12 L128.8,340.52 L126.69,341.94 L124.59,343.38 L122.49,344.84 L120.38,346.31 L118.28,347.8 L116.18,349.31 L114.07,350.84 L111.97,352.39 L109.87,353.96 L107.76,355.55 L105.66,357.15 L103.56,358.78 L101.45,360.43 L99.35,362.1 L97.25,363.79 L95.14,365.5 L93.04,367.24 L90.94,369 L88.83,370.78 L86.73,372.58 L84.63,374.41 L82.52,376.27 L80.42,378.15 L78.32,380.06 L76.21,381.99 L74.11,383.95 L72.01,385.94 L69.9,387.96 L67.8,390 L67.8,431.6 L69.9,428.94 L72.01,426.31 L74.11,423.69 L76.21,421.1 L78.32,418.53 L80.42,415.98 L82.52,413.45 L84.63,410.94 L86.73,408.45 L88.83,405.98 L90.94,403.53 L93.04,401.1 L95.14,398.69 L97.25,396.3 L99.35,393.92 L101.45,391.57 L103.56,389.23 L105.66,386.91 L107.76,384.61 L109.87,382.33 L111.97,380.07 L114.07,377.82 L116.18,375.59 L118.28,373.37 L120.38,371.18 L122.49,368.99 L124.59,366.83 L126.69,364.68 L128.8,362.55 L130.9,360.43 L133,358.33 L135.11,356.25 L137.21,354.18 L139.31,352.12 L141.42,350.08 L143.52,348.06 L145.62,346.05 L147.73,344.05 L149.83,342.07 L151.93,340.1 L154.04,338.15 L156.14,336.21 L158.24,334.28 L160.35,332.37 L162.45,330.47 L164.55,328.58 L166.66,326.71 L168.76,324.85 L170.86,323 L172.97,321.17 L175.07,319.35 L177.17,317.54 L179.28,315.74 L181.38,313.96 L183.48,312.18 L185.59,310.42 L187.69,308.68 L189.79,306.94 L191.9,305.21 L194,303.5 Z M194,303.5 L192.17,305.39 L190.33,307.27 L188.5,309.15 L186.67,311.03 L184.83,312.91 L183,314.78 L181.17,316.65 L179.33,318.52 L177.5,320.39 L175.67,322.25 L173.83,324.11 L172,325.97 L170.17,327.83 L168.33,329.68 L166.5,331.53 L164.67,333.38 L162.83,335.23 L161,337.07 L159.17,338.92 L157.33,340.76 L155.5,342.59 L153.67,344.43 L151.83,346.26 L150,348.09 L148.17,349.92 L146.33,351.74 L144.5,353.56 L142.67,355.38 L140.83,357.2 L139,359.02 L137.17,360.83 L135.33,362.64 L133.5,364.45 L131.67,366.26 L129.83,368.06 L128,369.86 L126.17,371.66 L124.33,373.46 L122.5,375.25 L120.67,377.04 L118.83,378.83 L117,380.62 L115.17,382.4 L113.33,384.19 L111.5,385.97 L109.67,387.75 L107.83,389.52 L106,391.3 L104.17,393.07 L102.33,394.84 L100.5,396.6 L98.67,398.37 L96.83,400.13 L95,401.89 L93.17,403.65 L91.33,405.4 L89.5,407.15 L87.67,408.91 L85.83,410.65 L84,412.4 L84,439.6 L85.83,437.67 L87.67,435.74 L89.5,433.79 L91.33,431.83 L93.17,429.86 L95,427.89 L96.83,425.9 L98.67,423.9 L100.5,421.89 L102.33,419.88 L104.17,417.85 L106,415.81 L107.83,413.76 L109.67,411.69 L111.5,409.62 L113.33,407.54 L115.17,405.44 L117,403.34 L118.83,401.22 L120.67,399.09 L122.5,396.95 L124.33,394.8 L126.17,392.64 L128,390.47 L129.83,388.28 L131.67,386.08 L133.5,383.87 L135.33,381.65 L137.17,379.42 L139,377.17 L140.83,374.91 L142.67,372.64 L144.5,370.35 L146.33,368.06 L148.17,365.75 L150,363.42 L151.83,361.09 L153.67,358.74 L155.5,356.38 L157.33,354 L159.17,351.61 L161,349.21 L162.83,346.79 L164.67,344.36 L166.5,341.92 L168.33,339.46 L170.17,336.99 L172,334.5 L173.83,332 L175.67,329.49 L177.5,326.96 L179.33,324.41 L181.17,321.85 L183,319.28 L184.83,316.69 L186.67,314.08 L188.5,311.46 L190.33,308.82 L192.17,306.17 L194,303.5 Z M194,303.5 L192.4,306.41 L190.81,309.28 L189.21,312.11 L187.61,314.89 L186.02,317.62 L184.42,320.32 L182.82,322.97 L181.23,325.59 L179.63,328.16 L178.03,330.7 L176.44,333.2 L174.84,335.67 L173.24,338.09 L171.65,340.49 L170.05,342.85 L168.45,345.17 L166.86,347.46 L165.26,349.72 L163.66,351.95 L162.07,354.15 L160.47,356.32 L158.87,358.46 L157.28,360.57 L155.68,362.65 L154.08,364.7 L152.49,366.73 L150.89,368.73 L149.29,370.7 L147.7,372.65 L146.1,374.58 L144.5,376.47 L142.91,378.35 L141.31,380.2 L139.71,382.03 L138.12,383.83 L136.52,385.61 L134.92,387.37 L133.33,389.11 L131.73,390.83 L130.13,392.52 L128.54,394.2 L126.94,395.86 L125.34,397.49 L123.75,399.11 L122.15,400.71 L120.55,402.29 L118.96,403.85 L117.36,405.39 L115.76,406.91 L114.17,408.42 L112.57,409.91 L110.97,411.39 L109.38,412.84 L107.78,414.28 L106.18,415.71 L104.59,417.12 L102.99,418.51 L101.39,419.89 L99.8,421.25 L98.2,422.6 L98.2,445.3 L99.8,443.69 L101.39,442.07 L102.99,440.43 L104.59,438.77 L106.18,437.09 L107.78,435.4 L109.38,433.68 L110.97,431.95 L112.57,430.19 L114.17,428.42 L115.76,426.62 L117.36,424.81 L118.96,422.97 L120.55,421.11 L122.15,419.23 L123.75,417.33 L125.34,415.41 L126.94,413.46 L128.54,411.49 L130.13,409.49 L131.73,407.47 L133.33,405.43 L134.92,403.36 L136.52,401.26 L138.12,399.14 L139.71,396.99 L141.31,394.82 L142.91,392.61 L144.5,390.38 L146.1,388.12 L147.7,385.83 L149.29,383.51 L150.89,381.16 L152.49,378.78 L154.08,376.37 L155.68,373.92 L157.28,371.45 L158.87,368.93 L160.47,366.39 L162.07,363.81 L163.66,361.19 L165.26,358.53 L166.86,355.84 L168.45,353.11 L170.05,350.34 L171.65,347.54 L173.24,344.69 L174.84,341.8 L176.44,338.86 L178.03,335.89 L179.63,332.87 L181.23,329.8 L182.82,326.69 L184.42,323.53 L186.02,320.32 L187.61,317.06 L189.21,313.75 L190.81,310.39 L192.4,306.97 L194,303.5 Z" fill="#a0c590" fill-opacity="0.43"/>
<path d="M196,309 L196.4,311.46 L196.8,313.94 L197.2,316.45 L197.59,318.98 L197.98,321.51 L198.37,324.05 L198.76,326.59 L199.15,329.11 L199.55,331.61 L199.95,334.09 L200.35,336.53 L200.77,338.93 L201.19,341.29 L201.61,343.59 L202.05,345.83 L202.5,348 L202.85,349.67 L203.2,351.31 L203.53,352.92 L203.86,354.5 L204.19,356.06 L204.53,357.59 L204.87,359.1 L205.22,360.58 L205.58,362.05 L205.96,363.51 L206.35,364.95 L206.77,366.37 L207.22,367.79 L207.7,369.2 L208.21,370.6 L208.75,372 L209.31,373.34 L209.89,374.66 L210.49,375.96 L211.12,377.25 L211.77,378.53 L212.44,379.79 L213.13,381.05 L213.84,382.29 L214.57,383.53 L215.31,384.75 L216.06,385.97 L216.83,387.19 L217.61,388.4 L218.4,389.6 L219.19,390.8 L220,392 L220.83,393.23 L221.68,394.46 L222.55,395.69 L223.43,396.92 L224.32,398.14 L225.22,399.36 L226.14,400.57 L227.08,401.77 L228.02,402.96 L228.98,404.13 L229.95,405.28 L230.94,406.42 L231.94,407.54 L232.95,408.64 L233.97,409.71 L235,410.75 L236.01,411.73 L237.02,412.68 L238.05,413.62 L239.09,414.53 L240.14,415.43 L241.2,416.31 L242.27,417.17 L243.36,418.02 L244.45,418.85 L245.56,419.68 L246.69,420.5 L247.82,421.31 L248.97,422.11 L250.13,422.91 L251.31,423.7 L252.5,424.5 L253.8,425.35 L255.12,426.19 L256.46,427.01 L257.82,427.83 L259.19,428.63 L260.58,429.43 L261.99,430.22 L263.41,431 L264.83,431.77 L266.27,432.53 L267.72,433.29 L269.17,434.04 L270.62,434.79 L272.08,435.53 L273.54,436.27 L275,437 L276.51,437.76 L278.04,438.52 L279.58,439.28 L281.14,440.04 L282.7,440.8 L284.27,441.55 L285.85,442.29 L287.43,443.02 L289.01,443.74 L290.59,444.45 L292.17,445.13 L293.75,445.8 L295.33,446.45 L296.89,447.08 L298.45,447.68 L300,448.25 L301.42,448.75 L302.84,449.22 L304.25,449.67 L305.66,450.09 L307.07,450.5 L308.48,450.88 L309.88,451.26 L311.28,451.62 L312.69,451.98 L314.09,452.33 L315.49,452.68 L316.89,453.03 L318.29,453.38 L319.69,453.75 L321.09,454.12 L322.5,454.5" fill="none" stroke="#8a8a8a" stroke-width="0.9"/>
<path d="M50,316 L61.6,357.5 M62.2,375 L53.3,400.6" fill="none" stroke="#6a6a6a" stroke-width="0.8"/>
<path d="M263.75,452 L301,454.2" stroke="#ed7d31" stroke-width="1.2"/>
<path d="M307,454.6 L300.6,451.5 L300.3,456.9 Z" fill="#ed7d31"/>
<circle cx="99.6" cy="354.2" r="4.6" fill="#60cde0" stroke="#2f3f45" stroke-width="0.8"/>
<circle cx="108.5" cy="371.5" r="4.6" fill="#60cde0" stroke="#2f3f45" stroke-width="0.8"/>
<circle cx="85.8" cy="397.3" r="4.6" fill="#60cde0" stroke="#2f3f45" stroke-width="0.8"/>
<circle cx="107.5" cy="406" r="4.6" fill="#60cde0" stroke="#2f3f45" stroke-width="0.8"/>
<circle cx="74.3" cy="388.8" r="4.6" fill="#eb7a2e" stroke="#2f3f45" stroke-width="0.8"/>
<circle cx="85.4" cy="406.4" r="4.6" fill="#eb7a2e" stroke="#2f3f45" stroke-width="0.8"/>
<circle cx="79.3" cy="432" r="4.6" fill="#eb7a2e" stroke="#2f3f45" stroke-width="0.8"/>
<rect x="126.25" y="401.55" width="9.4" height="9.4" fill="#fff38a" stroke="#85856a" stroke-width="0.8"/>
<rect x="132.3" y="435.55" width="9.4" height="9.4" fill="#fff38a" stroke="#85856a" stroke-width="0.8"/>
<rect x="120" y="444" width="9.4" height="9.4" fill="#fff38a" stroke="#85856a" stroke-width="0.8"/>
<rect x="43.05" y="304.8" width="11.1" height="11.1" fill="#8c8c8c" stroke="#d4d4d4" stroke-width="0.8" rx="0.8"/>
<path d="M43.65,305.4 L53.55,315.3 M43.65,315.3 L53.55,305.4" stroke="#ffffff" stroke-width="1.15"/>
<rect x="44.55" y="400.5" width="11.1" height="11.1" fill="#8c8c8c" stroke="#d4d4d4" stroke-width="0.8" rx="0.8"/>
<path d="M45.15,401.1 L55.05,411 M45.15,411 L55.05,401.1" stroke="#ffffff" stroke-width="1.15"/>
<rect x="188" y="296.8" width="11.7" height="11.7" fill="#5b9bd5" stroke="#c8ddf2" stroke-width="0.8" rx="0.8"/>
<path d="M188.6,297.4 L199.1,307.9 M188.6,307.9 L199.1,297.4" stroke="#ffffff" stroke-width="1.15"/>
<rect x="42.6" y="252.35" width="280.05" height="214.15" fill="none" stroke="#000" stroke-width="1.3" stroke-linejoin="round"/>
<path d="M42.5,259.25 L45.1,259.25 M42.5,293.79 L45.1,293.79 M42.5,328.33 L45.1,328.33 M42.5,362.87 L45.1,362.87 M42.5,397.41 L45.1,397.41 M42.5,431.95 L45.1,431.95 M42.5,466.49 L45.1,466.49 " stroke="#111" stroke-width="1"/>
<path d="M122,466.5 L122,463.9 M201.75,466.5 L201.75,463.9 M281.75,466.5 L281.75,463.9 " stroke="#111" stroke-width="1"/>
<text x="37.7" y="263" font-size="10.3" text-anchor="end" fill="#1a1a1a" font-weight="normal" textLength="21.7" lengthAdjust="spacingAndGlyphs" letter-spacing="0.7">0.20</text>
<text x="37.7" y="332.3" font-size="10.3" text-anchor="end" fill="#1a1a1a" font-weight="normal" textLength="21.7" lengthAdjust="spacingAndGlyphs" letter-spacing="0.7">0.12</text>
<text x="37.7" y="400.8" font-size="10.3" text-anchor="end" fill="#1a1a1a" font-weight="normal" textLength="21.7" lengthAdjust="spacingAndGlyphs" letter-spacing="0.7">0.04</text>
<text x="37.7" y="469.5" font-size="10.3" text-anchor="end" fill="#1a1a1a" font-weight="normal" textLength="25.7" lengthAdjust="spacingAndGlyphs" letter-spacing="0.7">-0.04</text>
<text x="40.35" y="482" font-size="10.3" text-anchor="middle" fill="#1a1a1a" font-weight="normal" textLength="32" lengthAdjust="spacingAndGlyphs" letter-spacing="0.7">0.7025</text>
<text x="120.35" y="482" font-size="10.3" text-anchor="middle" fill="#1a1a1a" font-weight="normal" textLength="33.2" lengthAdjust="spacingAndGlyphs" letter-spacing="0.7">0.7035</text>
<text x="200.2" y="482" font-size="10.3" text-anchor="middle" fill="#1a1a1a" font-weight="normal" textLength="32.8" lengthAdjust="spacingAndGlyphs" letter-spacing="0.7">0.7045</text>
<text x="280.35" y="482" font-size="10.3" text-anchor="middle" fill="#1a1a1a" font-weight="normal" textLength="33.2" lengthAdjust="spacingAndGlyphs" letter-spacing="0.7">0.7055</text>
<text transform="translate(9.5,390.4) rotate(-90)" font-size="10.7" fill="#1a1a1a" textLength="71.2" lengthAdjust="spacingAndGlyphs">&#948;<tspan font-size="7" dy="-3.6">138/134</tspan><tspan dy="3.6">Ba (&#8240;)</tspan></text>
<text x="161.9" y="495.6" font-size="10.7" fill="#1a1a1a" textLength="43.8" lengthAdjust="spacingAndGlyphs"><tspan font-size="7" dy="-3.8">87</tspan><tspan dy="3.8">Sr/</tspan><tspan font-size="7" dy="-3.8">86</tspan><tspan dy="3.8">Sr</tspan></text>
<text x="58" y="270" font-size="15.5" text-anchor="start" fill="#111" font-weight="bold">c</text>
<text x="133.2" y="295.2" font-size="13" text-anchor="start" fill="#5b9bd5" font-weight="bold" textLength="66.6" lengthAdjust="spacingAndGlyphs" letter-spacing="0.6">AOC fluid</text>
<text x="46" y="371.3" font-size="13.8" text-anchor="start" fill="#878787" font-weight="bold" textLength="35.3" lengthAdjust="spacingAndGlyphs" letter-spacing="1.6" stroke="#fff" stroke-width="1.6" paint-order="stroke">DMM</text>
<text x="43.6" y="439.1" font-size="10" text-anchor="start" fill="#ed7d31" font-weight="normal" textLength="23" lengthAdjust="spacingAndGlyphs" letter-spacing="0.8">0.4%</text>
<text x="63.8" y="450.8" font-size="10" text-anchor="start" fill="#ed7d31" font-weight="normal" textLength="23" lengthAdjust="spacingAndGlyphs" letter-spacing="0.8">0.8%</text>
<text x="90.8" y="456.3" font-size="10" text-anchor="start" fill="#ed7d31" font-weight="normal" textLength="22.6" lengthAdjust="spacingAndGlyphs" letter-spacing="0.8">1.2%</text>
<text x="145" y="461.75" font-size="10" text-anchor="start" fill="#ed7d31" font-weight="normal" textLength="22.8" lengthAdjust="spacingAndGlyphs" letter-spacing="0.8">2.0%</text>
<text x="260.5" y="435.75" font-size="11.5" text-anchor="start" fill="#ed7d31" font-weight="bold" textLength="34.1" lengthAdjust="spacingAndGlyphs" letter-spacing="1">Meta-</text>
<text x="260" y="448.25" font-size="11.5" text-anchor="start" fill="#ed7d31" font-weight="bold" textLength="58.4" lengthAdjust="spacingAndGlyphs" letter-spacing="1">sediment</text>
<rect x="209.5" y="256.25" width="110" height="46.25" fill="#fff" stroke="#8a8a8a" stroke-width="0.8"/>
<circle cx="216.25" cy="264.5" r="3" fill="#eb7a2e" stroke="#2f3f45" stroke-width="0.8"/>
<rect x="213.15" y="276.65" width="6.2" height="6.2" fill="#fff38a" stroke="#8a8a6a" stroke-width="0.8"/>
<circle cx="216.25" cy="295" r="3" fill="#60cde0" stroke="#2f3f45" stroke-width="0.8"/>
<text x="222" y="268.3" font-size="10.7" text-anchor="start" fill="#1a1a1a" font-weight="normal" textLength="96" lengthAdjust="spacingAndGlyphs">M. Mariana Trough</text>
<text x="222" y="283.6" font-size="10.7" text-anchor="start" fill="#1a1a1a" font-weight="normal" textLength="75" lengthAdjust="spacingAndGlyphs">N. Mariana arc</text>
<text x="222" y="298.8" font-size="10.7" text-anchor="start" fill="#1a1a1a" font-weight="normal" textLength="75" lengthAdjust="spacingAndGlyphs">S. Mariana arc</text>
<path d="M585.5,302.8 L587.03,302.86 L588.56,302.92 L590.08,302.98 L591.6,303.04 L593.13,303.09 L594.65,303.15 L596.17,303.21 L597.7,303.27 L599.22,303.33 L600.75,303.39 L602.28,303.45 L603.81,303.51 L605.35,303.58 L606.9,303.65 L608.45,303.72 L610,303.8 L611.62,303.88 L613.24,303.97 L614.87,304.06 L616.51,304.16 L618.15,304.26 L619.8,304.36 L621.44,304.46 L623.09,304.56 L624.74,304.67 L626.4,304.77 L628.05,304.88 L629.7,304.99 L631.36,305.09 L633.01,305.2 L634.65,305.3 L636.3,305.4 L643.6,310 L644,317.5 L642.8,400 L642.6,400 L642.51,398.43 L642.43,396.83 L642.35,395.22 L642.27,393.6 L642.19,391.97 L642.11,390.34 L642.04,388.72 L641.96,387.1 L641.87,385.49 L641.79,383.91 L641.7,382.34 L641.61,380.8 L641.52,379.29 L641.42,377.82 L641.31,376.39 L641.2,375 L641.11,373.96 L641.02,372.94 L640.92,371.95 L640.82,370.98 L640.72,370.03 L640.62,369.09 L640.52,368.17 L640.41,367.26 L640.31,366.35 L640.2,365.45 L640.09,364.56 L639.97,363.66 L639.86,362.76 L639.74,361.85 L639.62,360.93 L639.5,360 L639.38,359.06 L639.25,358.12 L639.13,357.18 L639,356.24 L638.87,355.3 L638.74,354.36 L638.61,353.42 L638.47,352.48 L638.33,351.54 L638.19,350.6 L638.05,349.66 L637.91,348.73 L637.76,347.79 L637.61,346.86 L637.46,345.93 L637.3,345 L637.14,344.07 L636.98,343.1 L636.8,342.11 L636.63,341.11 L636.45,340.09 L636.27,339.08 L636.08,338.07 L635.9,337.07 L635.71,336.1 L635.53,335.15 L635.35,334.24 L635.17,333.37 L634.99,332.56 L634.82,331.8 L634.66,331.12 L634.5,330.5 L634.43,330.23 L634.36,329.99 L634.29,329.76 L634.23,329.54 L634.17,329.33 L634.1,329.14 L634.04,328.95 L633.98,328.77 L633.91,328.6 L633.85,328.42 L633.78,328.25 L633.71,328.07 L633.64,327.89 L633.57,327.7 L633.49,327.51 L633.4,327.3 L633.29,327.05 L633.18,326.79 L633.07,326.52 L632.96,326.26 L632.84,325.99 L632.71,325.72 L632.59,325.44 L632.46,325.17 L632.33,324.89 L632.19,324.62 L632.05,324.34 L631.91,324.07 L631.76,323.8 L631.61,323.53 L631.46,323.26 L631.3,323 L631.13,322.72 L630.96,322.45 L630.78,322.17 L630.6,321.9 L630.42,321.62 L630.24,321.35 L630.05,321.08 L629.85,320.8 L629.66,320.53 L629.45,320.27 L629.24,320 L629.03,319.74 L628.8,319.47 L628.58,319.21 L628.34,318.96 L628.1,318.7 L627.82,318.41 L627.53,318.13 L627.24,317.85 L626.94,317.58 L626.63,317.3 L626.32,317.03 L625.99,316.76 L625.67,316.5 L625.33,316.23 L624.98,315.97 L624.63,315.71 L624.26,315.44 L623.89,315.18 L623.5,314.92 L623.11,314.66 L622.7,314.4 L622.14,314.05 L621.56,313.7 L620.95,313.35 L620.32,313 L619.67,312.65 L619,312.29 L618.32,311.94 L617.63,311.6 L616.92,311.26 L616.22,310.92 L615.5,310.59 L614.79,310.27 L614.08,309.96 L613.38,309.66 L612.68,309.38 L612,309.1 L611.35,308.84 L610.69,308.6 L610.03,308.35 L609.38,308.12 L608.72,307.89 L608.06,307.67 L607.4,307.46 L606.73,307.25 L606.07,307.05 L605.41,306.86 L604.74,306.68 L604.07,306.51 L603.41,306.34 L602.74,306.19 L602.07,306.04 L601.4,305.9 L600.73,305.77 L600.05,305.66 L599.35,305.55 L598.65,305.45 L597.95,305.36 L597.24,305.28 L596.53,305.21 L595.83,305.14 L595.13,305.08 L594.45,305.03 L593.77,304.98 L593.11,304.94 L592.47,304.9 L591.86,304.86 L591.26,304.83 L590.7,304.8 L590.32,304.78 L589.96,304.77 L589.61,304.76 L589.27,304.76 L588.94,304.75 L588.62,304.75 L588.3,304.76 L587.99,304.76 L587.68,304.77 L587.37,304.77 L587.06,304.78 L586.76,304.79 L586.45,304.79 L586.14,304.8 L585.82,304.8 L585.5,304.8 Z" fill="#a4daee"/>
<path d="M389,444.5 L391.56,444.16 L394.13,443.82 L396.7,443.48 L399.26,443.14 L401.83,442.8 L404.4,442.46 L406.97,442.12 L409.53,441.79 L412.1,441.45 L414.67,441.1 L417.23,440.76 L419.79,440.42 L422.35,440.07 L424.9,439.71 L427.45,439.36 L430,439 L432.51,438.65 L434.99,438.3 L437.46,437.96 L439.92,437.63 L442.37,437.3 L444.81,436.96 L447.26,436.62 L449.71,436.28 L452.17,435.92 L454.65,435.56 L457.14,435.18 L459.65,434.78 L462.19,434.37 L464.76,433.94 L467.36,433.48 L470,433 L473.12,432.41 L476.32,431.79 L479.59,431.14 L482.92,430.47 L486.3,429.77 L489.71,429.05 L493.13,428.31 L496.56,427.55 L499.98,426.79 L503.38,426.01 L506.74,425.23 L510.04,424.44 L513.29,423.65 L516.46,422.86 L519.53,422.08 L522.5,421.3 L524.84,420.68 L527.14,420.08 L529.4,419.49 L531.61,418.9 L533.79,418.32 L535.94,417.74 L538.06,417.15 L540.16,416.55 L542.24,415.93 L544.29,415.3 L546.34,414.64 L548.38,413.95 L550.41,413.22 L552.43,412.46 L554.46,411.65 L556.5,410.8 L558.58,409.89 L560.7,408.92 L562.85,407.91 L565.01,406.86 L567.18,405.77 L569.34,404.66 L571.49,403.52 L573.6,402.36 L575.67,401.18 L577.69,400 L579.64,398.81 L581.51,397.62 L583.3,396.45 L584.98,395.28 L586.55,394.13 L588,393 L588.88,392.26 L589.7,391.51 L590.47,390.76 L591.2,390 L591.88,389.24 L592.53,388.48 L593.15,387.72 L593.75,386.97 L594.33,386.21 L594.91,385.47 L595.48,384.73 L596.05,384 L596.64,383.28 L597.23,382.57 L597.85,381.88 L598.5,381.2 L599.11,380.6 L599.73,380.02 L600.35,379.47 L600.98,378.93 L601.61,378.4 L602.24,377.88 L602.87,377.37 L603.5,376.86 L604.13,376.34 L604.75,375.82 L605.37,375.28 L605.98,374.73 L606.57,374.16 L607.16,373.57 L607.74,372.95 L608.3,372.3 L608.91,371.53 L609.51,370.73 L610.09,369.9 L610.66,369.04 L611.21,368.17 L611.76,367.27 L612.29,366.35 L612.82,365.43 L613.35,364.5 L613.88,363.57 L614.4,362.63 L614.93,361.7 L615.46,360.78 L616,359.87 L616.54,358.97 L617.1,358.1 L617.65,357.26 L618.22,356.41 L618.79,355.56 L619.37,354.71 L619.95,353.87 L620.54,353.02 L621.13,352.18 L621.71,351.34 L622.29,350.51 L622.86,349.69 L623.42,348.88 L623.97,348.08 L624.5,347.28 L625.02,346.51 L625.52,345.75 L626,345 L626.36,344.42 L626.72,343.85 L627.06,343.29 L627.4,342.73 L627.73,342.18 L628.06,341.63 L628.37,341.09 L628.68,340.56 L628.99,340.03 L629.29,339.51 L629.58,339 L629.87,338.49 L630.16,337.98 L630.44,337.48 L630.72,336.99 L631,336.5 L631.23,336.1 L631.45,335.7 L631.67,335.31 L631.88,334.93 L632.09,334.55 L632.3,334.18 L632.5,333.81 L632.7,333.44 L632.9,333.07 L633.1,332.71 L633.3,332.34 L633.49,331.98 L633.69,331.61 L633.89,331.24 L634.1,330.87 L634.3,330.5 L634.3,330.5 L634.49,331.41 L634.68,332.31 L634.87,333.21 L635.07,334.12 L635.27,335.02 L635.46,335.92 L635.66,336.83 L635.85,337.73 L636.04,338.63 L636.24,339.54 L636.42,340.44 L636.61,341.35 L636.79,342.26 L636.96,343.17 L637.14,344.08 L637.3,345 L637.46,345.93 L637.62,346.86 L637.77,347.79 L637.92,348.73 L638.07,349.66 L638.21,350.6 L638.35,351.54 L638.48,352.48 L638.62,353.42 L638.75,354.36 L638.88,355.3 L639,356.24 L639.13,357.18 L639.25,358.12 L639.38,359.06 L639.5,360 L639.62,360.93 L639.74,361.86 L639.86,362.78 L639.97,363.7 L640.09,364.61 L640.2,365.53 L640.31,366.44 L640.42,367.36 L640.53,368.28 L640.63,369.21 L640.73,370.15 L640.83,371.1 L640.93,372.05 L641.02,373.02 L641.11,374 L641.2,375 L641.3,376.19 L641.4,377.45 L641.49,378.76 L641.58,380.11 L641.67,381.48 L641.76,382.87 L641.84,384.27 L641.92,385.65 L641.99,387.02 L642.06,388.35 L642.13,389.64 L642.19,390.87 L642.25,392.03 L642.31,393.12 L642.36,394.11 L642.4,395 L642.42,395.4 L642.44,395.78 L642.45,396.14 L642.47,396.48 L642.48,396.81 L642.49,397.12 L642.51,397.42 L642.52,397.71 L642.53,397.99 L642.54,398.27 L642.55,398.55 L642.56,398.83 L642.57,399.11 L642.58,399.4 L642.59,399.69 L642.6,400 L642.6,401 L642.25,401.44 L641.9,401.89 L641.55,402.34 L641.2,402.8 L640.85,403.26 L640.5,403.72 L640.15,404.17 L639.8,404.63 L639.45,405.08 L639.1,405.53 L638.75,405.96 L638.4,406.39 L638.05,406.82 L637.7,407.22 L637.35,407.62 L637,408 L636.71,408.31 L636.42,408.6 L636.13,408.89 L635.85,409.17 L635.57,409.44 L635.28,409.7 L635,409.96 L634.72,410.21 L634.43,410.47 L634.14,410.72 L633.85,410.97 L633.55,411.23 L633.25,411.49 L632.94,411.75 L632.62,412.02 L632.3,412.3 L631.91,412.64 L631.51,412.99 L631.11,413.34 L630.7,413.7 L630.28,414.06 L629.86,414.42 L629.44,414.79 L629,415.15 L628.56,415.52 L628.12,415.88 L627.67,416.25 L627.21,416.61 L626.74,416.96 L626.27,417.32 L625.79,417.66 L625.3,418 L624.74,418.37 L624.17,418.75 L623.59,419.11 L623,419.48 L622.4,419.84 L621.79,420.2 L621.17,420.55 L620.54,420.9 L619.91,421.25 L619.27,421.59 L618.63,421.94 L617.99,422.28 L617.34,422.61 L616.7,422.94 L616.05,423.27 L615.4,423.6 L614.72,423.94 L614.03,424.27 L613.33,424.61 L612.63,424.94 L611.92,425.27 L611.21,425.59 L610.49,425.91 L609.78,426.23 L609.06,426.55 L608.34,426.85 L607.62,427.16 L606.91,427.46 L606.2,427.75 L605.49,428.04 L604.79,428.32 L604.1,428.6 L603.48,428.85 L602.88,429.08 L602.31,429.31 L601.75,429.53 L601.19,429.75 L600.64,429.96 L600.09,430.16 L599.54,430.37 L598.97,430.57 L598.38,430.78 L597.77,430.98 L597.13,431.2 L596.46,431.41 L595.75,431.63 L595,431.86 L594.2,432.1 L592.52,432.59 L590.65,433.11 L588.63,433.66 L586.47,434.24 L584.18,434.83 L581.79,435.44 L579.32,436.05 L576.79,436.67 L574.21,437.28 L571.6,437.89 L568.99,438.48 L566.39,439.04 L563.82,439.59 L561.3,440.1 L558.86,440.57 L556.5,441 L554.35,441.37 L552.23,441.71 L550.15,442.03 L548.08,442.33 L546.02,442.61 L543.98,442.87 L541.93,443.12 L539.88,443.35 L537.82,443.58 L535.74,443.79 L533.63,444 L531.49,444.2 L529.32,444.4 L527.1,444.6 L524.83,444.8 L522.5,445 L519.52,445.25 L516.44,445.48 L513.26,445.7 L510.01,445.91 L506.7,446.1 L503.34,446.29 L499.94,446.47 L496.52,446.64 L493.09,446.81 L489.67,446.98 L486.26,447.15 L482.89,447.31 L479.57,447.48 L476.3,447.65 L473.11,447.82 L470,448 L467.35,448.16 L464.74,448.32 L462.17,448.48 L459.63,448.65 L457.12,448.81 L454.62,448.97 L452.15,449.13 L449.69,449.29 L447.24,449.45 L444.8,449.61 L442.36,449.76 L439.91,449.91 L437.45,450.07 L434.99,450.21 L432.5,450.36 L430,450.5 L427.45,450.64 L424.9,450.78 L422.34,450.91 L419.79,451.04 L417.23,451.16 L414.66,451.29 L412.1,451.41 L409.53,451.53 L406.97,451.65 L404.4,451.77 L401.83,451.89 L399.26,452.01 L396.69,452.13 L394.13,452.25 L391.56,452.38 L389,452.5 Z" fill="#fce39c"/>
<path d="M638.2,317.5 L644,317.5 L642.9,400 L642.6,400 L642.6,400 L642.59,399.69 L642.58,399.4 L642.57,399.11 L642.56,398.83 L642.55,398.55 L642.54,398.27 L642.53,397.99 L642.52,397.71 L642.51,397.42 L642.49,397.12 L642.48,396.81 L642.47,396.48 L642.45,396.14 L642.44,395.78 L642.42,395.4 L642.4,395 L642.36,394.11 L642.31,393.12 L642.25,392.03 L642.19,390.87 L642.13,389.64 L642.06,388.35 L641.99,387.02 L641.92,385.65 L641.84,384.27 L641.76,382.87 L641.67,381.48 L641.58,380.11 L641.49,378.76 L641.4,377.45 L641.3,376.19 L641.2,375 L641.11,374 L641.02,373.02 L640.93,372.05 L640.83,371.1 L640.73,370.15 L640.63,369.21 L640.53,368.28 L640.42,367.36 L640.31,366.44 L640.2,365.53 L640.09,364.61 L639.97,363.7 L639.86,362.78 L639.74,361.86 L639.62,360.93 L639.5,360 L639.38,359.06 L639.25,358.12 L639.13,357.18 L639,356.24 L638.88,355.3 L638.75,354.36 L638.62,353.42 L638.48,352.48 L638.35,351.54 L638.21,350.6 L638.07,349.66 L637.92,348.73 L637.77,347.79 L637.62,346.86 L637.46,345.93 L637.3,345 L637.13,344.06 L636.95,343.08 L636.76,342.07 L636.57,341.04 L636.37,340 L636.16,338.95 L635.95,337.91 L635.75,336.89 L635.54,335.9 L635.34,334.94 L635.14,334.03 L634.95,333.18 L634.77,332.39 L634.6,331.67 L634.44,331.04 L634.3,330.5 L634.25,330.32 L634.2,330.16 L634.15,330.01 L634.11,329.87 L634.06,329.73 L634.02,329.61 L633.98,329.49 L633.94,329.38 L633.89,329.27 L633.85,329.17 L633.81,329.06 L633.77,328.96 L633.73,328.85 L633.69,328.74 L633.64,328.62 L633.6,328.5 Z" fill="#a2cbbd"/>
<g opacity="0.55"><path d="M579.2,303.2 L578.74,303.35 L578.27,303.5 L577.81,303.65 L577.34,303.81 L576.88,303.96 L576.42,304.12 L575.95,304.29 L575.49,304.45 L575.02,304.62 L574.56,304.79 L574.09,304.96 L573.63,305.13 L573.17,305.31 L572.7,305.49 L572.24,305.67 L571.77,305.86 L571.31,306.05 L570.85,306.24 L570.38,306.44 L569.92,306.64 L569.45,306.84 L568.99,307.04 L568.52,307.25 L568.06,307.46 L567.6,307.68 L567.13,307.9 L566.67,308.12 L566.2,308.35 L565.74,308.58 L565.28,308.82 L564.81,309.06 L564.35,309.3 L563.88,309.55 L563.42,309.8 L562.95,310.06 L562.49,310.32 L562.03,310.59 L561.56,310.87 L561.1,311.14 L560.63,311.43 L560.17,311.72 L559.71,312.01 L559.24,312.32 L558.78,312.62 L558.31,312.94 L557.85,313.26 L557.38,313.59 L556.92,313.92 L556.46,314.26 L555.99,314.61 L555.53,314.97 L555.06,315.34 L554.6,315.71 L554.13,316.09 L553.67,316.48 L553.21,316.88 L552.74,317.29 L552.28,317.71 L551.81,318.14 L551.35,318.58 L550.89,319.03 L550.42,319.5 L549.96,319.97 L549.49,320.46 L549.03,320.96 L548.57,321.47 L548.1,322 L547.64,322.54 L547.17,323.1 L546.71,323.67 L546.24,324.26 L545.78,324.86 L545.32,325.48 L544.85,326.12 L544.39,326.79 L543.92,327.47 L543.46,328.17 L543,328.89 L542.53,329.64 L542.07,330.41 L541.6,331.21 L541.14,332.04 L540.67,332.89 L540.21,333.77 L539.75,334.69 L539.28,335.63 L538.82,336.62 L538.35,337.64 L537.89,338.69 L537.42,339.79 L536.96,340.94 L536.5,342.13 L536.03,343.37 L535.57,344.66 L535.1,346.01 L534.64,347.41 L534.18,348.89 L533.71,350.43 L533.25,352.04 L532.78,353.73 L532.32,355.5 L531.86,357.37 L531.39,359.33 L530.93,361.4 L530.46,363.58 L530,365.89 L529.53,368.33 L529.07,370.92 L528.61,373.67 L528.14,376.6 L527.68,379.72 L527.21,383.05 L526.75,386.62 L526.28,390.45 L525.82,394.58 L525.36,399.03 L524.89,403.85 L524.43,409.08 L523.96,414.79 L523.5,421.04 L523.5,444.91 L523.96,437.4 L524.43,430.54 L524.89,424.24 L525.36,418.44 L525.82,413.09 L526.28,408.13 L526.75,403.52 L527.21,399.23 L527.68,395.22 L528.14,391.47 L528.61,387.95 L529.07,384.64 L529.53,381.53 L530,378.59 L530.46,375.82 L530.93,373.19 L531.39,370.71 L531.86,368.34 L532.32,366.1 L532.78,363.97 L533.25,361.93 L533.71,359.99 L534.18,358.14 L534.64,356.37 L535.1,354.68 L535.57,353.06 L536.03,351.51 L536.5,350.02 L536.96,348.58 L537.42,347.21 L537.89,345.89 L538.35,344.61 L538.82,343.39 L539.28,342.21 L539.75,341.07 L540.21,339.97 L540.67,338.9 L541.14,337.88 L541.6,336.89 L542.07,335.93 L542.53,335 L543,334.1 L543.46,333.23 L543.92,332.38 L544.39,331.56 L544.85,330.77 L545.32,330 L545.78,329.25 L546.24,328.52 L546.71,327.81 L547.17,327.13 L547.64,326.46 L548.1,325.81 L548.57,325.17 L549.03,324.56 L549.49,323.96 L549.96,323.37 L550.42,322.8 L550.89,322.24 L551.35,321.7 L551.81,321.17 L552.28,320.65 L552.74,320.15 L553.21,319.66 L553.67,319.17 L554.13,318.7 L554.6,318.24 L555.06,317.8 L555.53,317.36 L555.99,316.93 L556.46,316.51 L556.92,316.09 L557.38,315.69 L557.85,315.3 L558.31,314.91 L558.78,314.53 L559.24,314.16 L559.71,313.8 L560.17,313.44 L560.63,313.1 L561.1,312.75 L561.56,312.42 L562.03,312.09 L562.49,311.77 L562.95,311.45 L563.42,311.14 L563.88,310.84 L564.35,310.54 L564.81,310.24 L565.28,309.95 L565.74,309.67 L566.2,309.39 L566.67,309.12 L567.13,308.85 L567.6,308.59 L568.06,308.33 L568.52,308.07 L568.99,307.82 L569.45,307.57 L569.92,307.33 L570.38,307.09 L570.85,306.86 L571.31,306.63 L571.77,306.4 L572.24,306.18 L572.7,305.96 L573.17,305.74 L573.63,305.53 L574.09,305.32 L574.56,305.11 L575.02,304.9 L575.49,304.7 L575.95,304.51 L576.42,304.31 L576.88,304.12 L577.34,303.93 L577.81,303.74 L578.27,303.56 L578.74,303.38 L579.2,303.2 Z M579.2,303.2 L579,303.32 L578.81,303.44 L578.62,303.56 L578.42,303.68 L578.23,303.81 L578.03,303.93 L577.84,304.06 L577.64,304.19 L577.45,304.32 L577.25,304.46 L577.06,304.59 L576.86,304.73 L576.67,304.87 L576.47,305.02 L576.28,305.16 L576.08,305.31 L575.88,305.46 L575.69,305.62 L575.5,305.77 L575.3,305.93 L575.11,306.09 L574.91,306.25 L574.72,306.42 L574.52,306.59 L574.33,306.76 L574.13,306.94 L573.94,307.12 L573.74,307.3 L573.55,307.49 L573.35,307.67 L573.15,307.87 L572.96,308.06 L572.76,308.26 L572.57,308.47 L572.38,308.67 L572.18,308.89 L571.99,309.1 L571.79,309.32 L571.6,309.55 L571.4,309.77 L571.21,310.01 L571.01,310.25 L570.82,310.49 L570.62,310.74 L570.42,310.99 L570.23,311.25 L570.03,311.52 L569.84,311.79 L569.64,312.07 L569.45,312.35 L569.25,312.64 L569.06,312.94 L568.87,313.25 L568.67,313.56 L568.48,313.88 L568.28,314.2 L568.09,314.54 L567.89,314.88 L567.7,315.23 L567.5,315.59 L567.3,315.96 L567.11,316.35 L566.91,316.74 L566.72,317.14 L566.52,317.55 L566.33,317.97 L566.13,318.41 L565.94,318.85 L565.75,319.32 L565.55,319.79 L565.36,320.28 L565.16,320.78 L564.97,321.3 L564.77,321.84 L564.58,322.39 L564.38,322.96 L564.18,323.55 L563.99,324.15 L563.79,324.78 L563.6,325.43 L563.4,326.11 L563.21,326.81 L563.01,327.53 L562.82,328.28 L562.62,329.06 L562.43,329.87 L562.24,330.71 L562.04,331.58 L561.85,332.49 L561.65,333.44 L561.45,334.42 L561.26,335.46 L561.06,336.53 L560.87,337.66 L560.67,338.84 L560.48,340.07 L560.28,341.37 L560.09,342.73 L559.89,344.16 L559.7,345.66 L559.5,347.25 L559.31,348.92 L559.12,350.69 L558.92,352.57 L558.72,354.56 L558.53,356.67 L558.33,358.93 L558.14,361.33 L557.94,363.9 L557.75,366.65 L557.55,369.61 L557.36,372.79 L557.16,376.23 L556.97,379.96 L556.77,384.02 L556.58,388.44 L556.38,393.29 L556.19,398.63 L556,404.53 L555.8,411.09 L555.8,441.12 L556,432.73 L556.19,425.19 L556.38,418.37 L556.58,412.17 L556.77,406.51 L556.97,401.33 L557.16,396.56 L557.36,392.16 L557.55,388.09 L557.75,384.31 L557.94,380.79 L558.14,377.51 L558.33,374.44 L558.53,371.56 L558.72,368.85 L558.92,366.31 L559.12,363.91 L559.31,361.65 L559.5,359.51 L559.7,357.48 L559.89,355.55 L560.09,353.73 L560.28,351.99 L560.48,350.33 L560.67,348.75 L560.87,347.25 L561.06,345.81 L561.26,344.43 L561.45,343.11 L561.65,341.85 L561.85,340.64 L562.04,339.48 L562.24,338.36 L562.43,337.29 L562.62,336.25 L562.82,335.26 L563.01,334.3 L563.21,333.38 L563.4,332.48 L563.6,331.62 L563.79,330.79 L563.99,329.99 L564.18,329.21 L564.38,328.46 L564.58,327.73 L564.77,327.02 L564.97,326.34 L565.16,325.67 L565.36,325.03 L565.55,324.41 L565.75,323.8 L565.94,323.21 L566.13,322.64 L566.33,322.08 L566.52,321.54 L566.72,321.01 L566.91,320.5 L567.11,320 L567.3,319.52 L567.5,319.04 L567.7,318.58 L567.89,318.13 L568.09,317.69 L568.28,317.27 L568.48,316.85 L568.67,316.44 L568.87,316.04 L569.06,315.65 L569.25,315.27 L569.45,314.9 L569.64,314.54 L569.84,314.18 L570.03,313.84 L570.23,313.5 L570.42,313.16 L570.62,312.84 L570.82,312.52 L571.01,312.21 L571.21,311.9 L571.4,311.6 L571.6,311.31 L571.79,311.02 L571.99,310.74 L572.18,310.47 L572.38,310.2 L572.57,309.93 L572.76,309.67 L572.96,309.42 L573.15,309.17 L573.35,308.92 L573.55,308.68 L573.74,308.44 L573.94,308.21 L574.13,307.98 L574.33,307.75 L574.52,307.53 L574.72,307.32 L574.91,307.1 L575.11,306.9 L575.3,306.69 L575.5,306.49 L575.69,306.29 L575.88,306.09 L576.08,305.9 L576.28,305.71 L576.47,305.52 L576.67,305.34 L576.86,305.16 L577.06,304.98 L577.25,304.81 L577.45,304.64 L577.64,304.47 L577.84,304.3 L578.03,304.14 L578.23,303.97 L578.42,303.81 L578.62,303.66 L578.81,303.5 L579,303.35 L579.2,303.2 Z M579.2,303.2 L579.33,303.26 L579.46,303.33 L579.59,303.39 L579.71,303.46 L579.84,303.52 L579.97,303.59 L580.1,303.66 L580.23,303.73 L580.36,303.8 L580.48,303.87 L580.61,303.94 L580.74,304.02 L580.87,304.1 L581,304.17 L581.12,304.25 L581.25,304.33 L581.38,304.41 L581.51,304.49 L581.64,304.58 L581.77,304.66 L581.9,304.75 L582.02,304.84 L582.15,304.93 L582.28,305.02 L582.41,305.11 L582.54,305.21 L582.67,305.31 L582.79,305.41 L582.92,305.51 L583.05,305.61 L583.18,305.72 L583.31,305.82 L583.44,305.93 L583.56,306.04 L583.69,306.16 L583.82,306.27 L583.95,306.39 L584.08,306.51 L584.21,306.64 L584.33,306.76 L584.46,306.89 L584.59,307.03 L584.72,307.16 L584.85,307.3 L584.98,307.44 L585.1,307.58 L585.23,307.73 L585.36,307.88 L585.49,308.04 L585.62,308.2 L585.75,308.36 L585.87,308.53 L586,308.7 L586.13,308.88 L586.26,309.06 L586.39,309.24 L586.51,309.43 L586.64,309.63 L586.77,309.83 L586.9,310.03 L587.03,310.24 L587.16,310.46 L587.29,310.69 L587.41,310.92 L587.54,311.16 L587.67,311.4 L587.8,311.65 L587.93,311.91 L588.06,312.18 L588.18,312.46 L588.31,312.75 L588.44,313.04 L588.57,313.35 L588.7,313.67 L588.83,313.99 L588.95,314.33 L589.08,314.69 L589.21,315.05 L589.34,315.43 L589.47,315.82 L589.6,316.23 L589.72,316.66 L589.85,317.1 L589.98,317.56 L590.11,318.04 L590.24,318.54 L590.37,319.07 L590.49,319.62 L590.62,320.19 L590.75,320.79 L590.88,321.42 L591.01,322.08 L591.13,322.78 L591.26,323.51 L591.39,324.29 L591.52,325.1 L591.65,325.96 L591.78,326.88 L591.9,327.85 L592.03,328.88 L592.16,329.97 L592.29,331.14 L592.42,332.39 L592.55,333.73 L592.68,335.17 L592.8,336.73 L592.93,338.4 L593.06,340.22 L593.19,342.19 L593.32,344.35 L593.45,346.71 L593.57,349.31 L593.7,352.19 L593.83,355.38 L593.96,358.96 L594.09,362.99 L594.22,367.55 L594.34,372.78 L594.47,378.82 L594.6,385.87 L594.6,431.98 L594.47,421 L594.34,411.59 L594.22,403.45 L594.09,396.34 L593.96,390.07 L593.83,384.5 L593.7,379.51 L593.57,375.04 L593.45,370.98 L593.32,367.3 L593.19,363.95 L593.06,360.87 L592.93,358.04 L592.8,355.43 L592.68,353.01 L592.55,350.77 L592.42,348.68 L592.29,346.73 L592.16,344.91 L592.03,343.2 L591.9,341.59 L591.78,340.08 L591.65,338.66 L591.52,337.32 L591.39,336.05 L591.26,334.84 L591.13,333.7 L591.01,332.62 L590.88,331.59 L590.75,330.6 L590.62,329.67 L590.49,328.77 L590.37,327.92 L590.24,327.1 L590.11,326.32 L589.98,325.57 L589.85,324.85 L589.72,324.16 L589.6,323.5 L589.47,322.86 L589.34,322.25 L589.21,321.66 L589.08,321.09 L588.95,320.54 L588.83,320.01 L588.7,319.5 L588.57,319.01 L588.44,318.53 L588.31,318.07 L588.18,317.63 L588.06,317.19 L587.93,316.77 L587.8,316.37 L587.67,315.98 L587.54,315.59 L587.41,315.22 L587.29,314.86 L587.16,314.51 L587.03,314.17 L586.9,313.84 L586.77,313.52 L586.64,313.21 L586.51,312.91 L586.39,312.61 L586.26,312.32 L586.13,312.04 L586,311.77 L585.87,311.5 L585.75,311.24 L585.62,310.99 L585.49,310.74 L585.36,310.5 L585.23,310.26 L585.1,310.03 L584.98,309.81 L584.85,309.58 L584.72,309.37 L584.59,309.16 L584.46,308.95 L584.33,308.75 L584.21,308.55 L584.08,308.36 L583.95,308.17 L583.82,307.99 L583.69,307.81 L583.56,307.63 L583.44,307.46 L583.31,307.29 L583.18,307.12 L583.05,306.96 L582.92,306.79 L582.79,306.64 L582.67,306.48 L582.54,306.33 L582.41,306.18 L582.28,306.04 L582.15,305.89 L582.02,305.75 L581.9,305.62 L581.77,305.48 L581.64,305.35 L581.51,305.22 L581.38,305.09 L581.25,304.96 L581.12,304.84 L581,304.71 L580.87,304.59 L580.74,304.48 L580.61,304.36 L580.48,304.25 L580.36,304.13 L580.23,304.02 L580.1,303.91 L579.97,303.81 L579.84,303.7 L579.71,303.6 L579.59,303.5 L579.46,303.4 L579.33,303.3 L579.2,303.2 Z" fill="#a0c590" stroke="#a0c590" stroke-width="1.4" stroke-linejoin="round"/></g>
<path d="M388.6,352.2 L390.2,351.65 L391.79,351.1 L393.37,350.55 L394.96,349.99 L396.54,349.44 L398.12,348.89 L399.7,348.33 L401.29,347.78 L402.87,347.23 L404.47,346.68 L406.07,346.13 L407.67,345.58 L409.29,345.03 L410.91,344.48 L412.55,343.94 L414.2,343.4 L415.97,342.83 L417.75,342.25 L419.55,341.68 L421.35,341.11 L423.17,340.54 L425,339.98 L426.83,339.41 L428.67,338.85 L430.51,338.28 L432.35,337.72 L434.2,337.16 L436.05,336.61 L437.89,336.05 L439.73,335.5 L441.57,334.95 L443.4,334.4 L445.22,333.85 L447.05,333.31 L448.87,332.76 L450.69,332.21 L452.51,331.67 L454.34,331.13 L456.16,330.59 L457.99,330.05 L459.81,329.51 L461.64,328.98 L463.46,328.45 L465.29,327.93 L467.11,327.41 L468.94,326.9 L470.77,326.4 L472.6,325.9 L474.42,325.41 L476.24,324.93 L478.06,324.45 L479.89,323.98 L481.71,323.51 L483.54,323.05 L485.36,322.59 L487.19,322.14 L489.01,321.69 L490.84,321.24 L492.66,320.8 L494.49,320.36 L496.32,319.92 L498.15,319.48 L499.97,319.04 L501.8,318.6 L503.62,318.16 L505.45,317.73 L507.27,317.29 L509.09,316.85 L510.92,316.42 L512.74,315.98 L514.56,315.55 L516.39,315.13 L518.21,314.7 L520.04,314.29 L521.86,313.87 L523.69,313.46 L525.52,313.06 L527.34,312.67 L529.17,312.28 L531,311.9 L532.84,311.53 L534.72,311.16 L536.62,310.8 L538.54,310.44 L540.48,310.08 L542.42,309.73 L544.35,309.39 L546.27,309.05 L548.17,308.72 L550.04,308.4 L551.87,308.08 L553.66,307.77 L555.39,307.46 L557.07,307.17 L558.67,306.88 L560.2,306.6 L561.2,306.41 L562.17,306.23 L563.1,306.06 L564.01,305.89 L564.89,305.72 L565.75,305.56 L566.59,305.4 L567.42,305.25 L568.24,305.09 L569.05,304.94 L569.86,304.78 L570.67,304.63 L571.49,304.48 L572.31,304.32 L573.15,304.16 L574,304" fill="none" stroke="#8a8a8a" stroke-width="0.9"/>
<path d="M646,317.5 L649.9,356.8 M649.9,367.3 L646,400" fill="none" stroke="#6a6a6a" stroke-width="0.8"/>
<path d="M433,446.5 L396,446.5" stroke="#ed7d31" stroke-width="1.2"/>
<path d="M390,446.5 L396.5,443.8 L396.5,449.2 Z" fill="#ed7d31"/>
<path d="M410,436.5 L406.25,447" stroke="#ed7d31" stroke-width="0.7"/>
<circle cx="586.3" cy="354.8" r="4.6" fill="#60cde0" stroke="#2f3f45" stroke-width="0.8"/>
<circle cx="603.95" cy="371.45" r="4.6" fill="#60cde0" stroke="#2f3f45" stroke-width="0.8"/>
<circle cx="588" cy="396.9" r="4.6" fill="#60cde0" stroke="#2f3f45" stroke-width="0.8"/>
<circle cx="601.7" cy="405.6" r="4.6" fill="#60cde0" stroke="#2f3f45" stroke-width="0.8"/>
<circle cx="584.6" cy="388.5" r="4.6" fill="#eb7a2e" stroke="#2f3f45" stroke-width="0.8"/>
<circle cx="556" cy="405.6" r="4.6" fill="#eb7a2e" stroke="#2f3f45" stroke-width="0.8"/>
<circle cx="576.2" cy="431.3" r="4.6" fill="#eb7a2e" stroke="#2f3f45" stroke-width="0.8"/>
<rect x="474.4" y="401.1" width="9.4" height="9.4" fill="#fff38a" stroke="#85856a" stroke-width="0.8"/>
<rect x="437.3" y="434.8" width="9.4" height="9.4" fill="#fff38a" stroke="#85856a" stroke-width="0.8"/>
<rect x="464.55" y="443.05" width="9.4" height="9.4" fill="#fff38a" stroke="#85856a" stroke-width="0.8"/>
<rect x="636.35" y="305.25" width="12.2" height="12.2" fill="#8c8c8c" stroke="#d4d4d4" stroke-width="0.8" rx="0.8"/>
<path d="M636.95,305.85 L647.95,316.85 M636.95,316.85 L647.95,305.85" stroke="#ffffff" stroke-width="1.15"/>
<rect x="637.05" y="400.1" width="12.2" height="12.2" fill="#8c8c8c" stroke="#d4d4d4" stroke-width="0.8" rx="0.8"/>
<path d="M637.65,400.7 L648.65,411.7 M637.65,411.7 L648.65,400.7" stroke="#ffffff" stroke-width="1.15"/>
<rect x="573.15" y="297.1" width="12" height="12" fill="#5b9bd5" stroke="#c8ddf2" stroke-width="0.8" rx="0.8"/>
<path d="M573.75,297.7 L584.55,308.5 M573.75,308.5 L584.55,297.7" stroke="#ffffff" stroke-width="1.15"/>
<rect x="388.35" y="252.35" width="281.95" height="213.65" fill="none" stroke="#000" stroke-width="1.3" stroke-linejoin="round"/>
<path d="M388.75,260.5 L391.35,260.5 M388.75,294.7 L391.35,294.7 M388.75,328.9 L391.35,328.9 M388.75,363.1 L391.35,363.1 M388.75,397.3 L391.35,397.3 M388.75,431.5 L391.35,431.5 M388.75,465.7 L391.35,465.7 " stroke="#111" stroke-width="1"/>
<path d="M458.75,465.75 L458.75,463.15 M529.6,465.75 L529.6,463.15 M600.5,465.75 L600.5,463.15 " stroke="#111" stroke-width="1"/>
<text x="382.7" y="264.3" font-size="10.3" text-anchor="end" fill="#1a1a1a" font-weight="normal" textLength="21.7" lengthAdjust="spacingAndGlyphs" letter-spacing="0.7">0.20</text>
<text x="382.7" y="332.8" font-size="10.3" text-anchor="end" fill="#1a1a1a" font-weight="normal" textLength="21.7" lengthAdjust="spacingAndGlyphs" letter-spacing="0.7">0.12</text>
<text x="382.7" y="400.8" font-size="10.3" text-anchor="end" fill="#1a1a1a" font-weight="normal" textLength="21.7" lengthAdjust="spacingAndGlyphs" letter-spacing="0.7">0.04</text>
<text x="382.7" y="468.3" font-size="10.3" text-anchor="end" fill="#1a1a1a" font-weight="normal" textLength="25.7" lengthAdjust="spacingAndGlyphs" letter-spacing="0.7">-0.04</text>
<text x="385.35" y="479.5" font-size="10.3" text-anchor="middle" fill="#1a1a1a" font-weight="normal" textLength="33.2" lengthAdjust="spacingAndGlyphs" letter-spacing="0.7">0.5128</text>
<text x="455.95" y="479.5" font-size="10.3" text-anchor="middle" fill="#1a1a1a" font-weight="normal" textLength="33.4" lengthAdjust="spacingAndGlyphs" letter-spacing="0.7">0.5129</text>
<text x="526.8" y="479.5" font-size="10.3" text-anchor="middle" fill="#1a1a1a" font-weight="normal" textLength="34.2" lengthAdjust="spacingAndGlyphs" letter-spacing="0.7">0.5130</text>
<text x="597.35" y="479.5" font-size="10.3" text-anchor="middle" fill="#1a1a1a" font-weight="normal" textLength="33.7" lengthAdjust="spacingAndGlyphs" letter-spacing="0.7">0.5131</text>
<text x="667.85" y="479.5" font-size="10.3" text-anchor="middle" fill="#1a1a1a" font-weight="normal" textLength="33.2" lengthAdjust="spacingAndGlyphs" letter-spacing="0.7">0.5132</text>
<text transform="translate(354.1,391.3) rotate(-90)" font-size="10.7" fill="#1a1a1a" textLength="70.8" lengthAdjust="spacingAndGlyphs">&#948;<tspan font-size="7" dy="-3.6">138/134</tspan><tspan dy="3.6">Ba (&#8240;)</tspan></text>
<text x="502.1" y="493" font-size="10.7" fill="#1a1a1a" textLength="56.2" lengthAdjust="spacingAndGlyphs"><tspan font-size="7" dy="-3.8">143</tspan><tspan dy="3.8">Nd/</tspan><tspan font-size="7" dy="-3.8">144</tspan><tspan dy="3.8">Nd</tspan></text>
<text x="398" y="271" font-size="15.5" text-anchor="start" fill="#111" font-weight="bold">d</text>
<text x="540.5" y="291.9" font-size="13.3" text-anchor="start" fill="#5b9bd5" font-weight="bold" textLength="66.4" lengthAdjust="spacingAndGlyphs" letter-spacing="0.6">AOC fluid</text>
<text x="630.6" y="366.7" font-size="13.8" text-anchor="start" fill="#878787" font-weight="bold" textLength="35.3" lengthAdjust="spacingAndGlyphs" letter-spacing="1.6" stroke="#fff" stroke-width="1.6" paint-order="stroke">DMM</text>
<text x="516.7" y="455.9" font-size="10" text-anchor="start" fill="#ed7d31" font-weight="normal" textLength="22.3" lengthAdjust="spacingAndGlyphs" letter-spacing="0.8">1.2%</text>
<text x="548.7" y="450.6" font-size="10" text-anchor="start" fill="#ed7d31" font-weight="normal" textLength="23.1" lengthAdjust="spacingAndGlyphs" letter-spacing="0.8">0.8%</text>
<text x="588.8" y="442.8" font-size="10" text-anchor="start" fill="#ed7d31" font-weight="normal" textLength="23.1" lengthAdjust="spacingAndGlyphs" letter-spacing="0.8">0.4%</text>
<text x="405.5" y="462.5" font-size="10" text-anchor="start" fill="#ed7d31" font-weight="normal" textLength="23.3" lengthAdjust="spacingAndGlyphs" letter-spacing="0.8">2.0%</text>
<text x="393.25" y="422.75" font-size="11.5" text-anchor="start" fill="#ed7d31" font-weight="bold" textLength="35.1" lengthAdjust="spacingAndGlyphs" letter-spacing="1">Meta-</text>
<text x="393.25" y="433.75" font-size="11.5" text-anchor="start" fill="#ed7d31" font-weight="bold" textLength="57.6" lengthAdjust="spacingAndGlyphs" letter-spacing="1">sediment</text>
</svg>
</body></html>
